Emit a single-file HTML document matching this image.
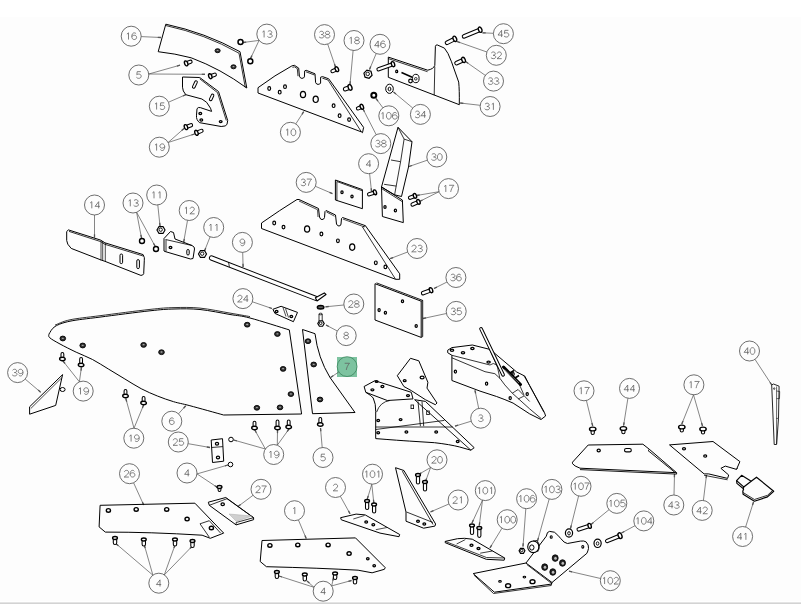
<!DOCTYPE html>
<html><head><meta charset="utf-8"><style>
html,body{margin:0;padding:0;background:#fff;width:801px;height:604px;overflow:hidden}
svg{display:block}
text{font-family:"Liberation Sans",sans-serif;font-size:9.6px;fill:#666}
</style></head><body>
<svg width="801" height="604" viewBox="0 0 801 604">
<rect x="0" y="0" width="801" height="604" fill="#fff"/>
<rect x="0" y="17" width="801" height="584" fill="#fdfdfd"/>
<rect x="0" y="602" width="801" height="1" fill="#e4e4e4"/>
<rect x="0" y="603" width="801" height="1" fill="#d3d3d3"/>
<rect x="337" y="357" width="20" height="20" fill="#7dc3a0"/>
<line x1="141.2" y1="36.6" x2="161.0" y2="37.5" stroke="#444" stroke-width="0.65"/>
<line x1="157.8" y1="37.4" x2="161.0" y2="37.5" stroke="#555" stroke-width="1.3"/>
<line x1="259.1" y1="40.4" x2="243.0" y2="42.5" stroke="#444" stroke-width="0.65"/>
<line x1="246.2" y1="42.1" x2="243.0" y2="42.5" stroke="#555" stroke-width="1.3"/>
<line x1="259.1" y1="40.4" x2="250.5" y2="58.5" stroke="#444" stroke-width="0.65"/>
<line x1="251.9" y1="55.6" x2="250.5" y2="58.5" stroke="#555" stroke-width="1.3"/>
<line x1="148.8" y1="74.0" x2="180.0" y2="65.2" stroke="#444" stroke-width="0.65"/>
<line x1="176.9" y1="66.1" x2="180.0" y2="65.2" stroke="#555" stroke-width="1.3"/>
<line x1="148.8" y1="74.0" x2="205.0" y2="74.3" stroke="#444" stroke-width="0.65"/>
<line x1="201.8" y1="74.3" x2="205.0" y2="74.3" stroke="#555" stroke-width="1.3"/>
<line x1="168.5" y1="102.2" x2="185.8" y2="94.7" stroke="#444" stroke-width="0.65"/>
<line x1="182.9" y1="96.0" x2="185.8" y2="94.7" stroke="#555" stroke-width="1.3"/>
<line x1="168.1" y1="142.5" x2="184.0" y2="128.5" stroke="#444" stroke-width="0.65"/>
<line x1="181.6" y1="130.6" x2="184.0" y2="128.5" stroke="#555" stroke-width="1.3"/>
<line x1="168.1" y1="142.5" x2="194.5" y2="134.0" stroke="#444" stroke-width="0.65"/>
<line x1="191.5" y1="135.0" x2="194.5" y2="134.0" stroke="#555" stroke-width="1.3"/>
<line x1="295.8" y1="123.9" x2="303.7" y2="111.7" stroke="#444" stroke-width="0.65"/>
<line x1="302.0" y1="114.4" x2="303.7" y2="111.7" stroke="#555" stroke-width="1.3"/>
<line x1="327.7" y1="44.1" x2="335.5" y2="67.0" stroke="#444" stroke-width="0.65"/>
<line x1="334.5" y1="64.0" x2="335.5" y2="67.0" stroke="#555" stroke-width="1.3"/>
<line x1="353.1" y1="50.5" x2="350.0" y2="84.5" stroke="#444" stroke-width="0.65"/>
<line x1="350.3" y1="81.3" x2="350.0" y2="84.5" stroke="#555" stroke-width="1.3"/>
<line x1="376.2" y1="53.5" x2="369.5" y2="69.5" stroke="#444" stroke-width="0.65"/>
<line x1="370.7" y1="66.5" x2="369.5" y2="69.5" stroke="#555" stroke-width="1.3"/>
<line x1="382.9" y1="107.8" x2="376.0" y2="98.5" stroke="#444" stroke-width="0.65"/>
<line x1="377.9" y1="101.1" x2="376.0" y2="98.5" stroke="#555" stroke-width="1.3"/>
<line x1="412.7" y1="108.0" x2="393.5" y2="92.0" stroke="#444" stroke-width="0.65"/>
<line x1="396.0" y1="94.0" x2="393.5" y2="92.0" stroke="#555" stroke-width="1.3"/>
<line x1="493.4" y1="33.3" x2="482.5" y2="32.8" stroke="#444" stroke-width="0.65"/>
<line x1="485.7" y1="32.9" x2="482.5" y2="32.8" stroke="#555" stroke-width="1.3"/>
<line x1="486.9" y1="52.0" x2="457.0" y2="41.5" stroke="#444" stroke-width="0.65"/>
<line x1="460.0" y1="42.6" x2="457.0" y2="41.5" stroke="#555" stroke-width="1.3"/>
<line x1="485.3" y1="75.4" x2="465.5" y2="61.5" stroke="#444" stroke-width="0.65"/>
<line x1="468.1" y1="63.3" x2="465.5" y2="61.5" stroke="#555" stroke-width="1.3"/>
<line x1="480.2" y1="105.3" x2="460.2" y2="103.0" stroke="#444" stroke-width="0.65"/>
<line x1="463.4" y1="103.4" x2="460.2" y2="103.0" stroke="#555" stroke-width="1.3"/>
<line x1="376.2" y1="134.7" x2="363.0" y2="109.0" stroke="#444" stroke-width="0.65"/>
<line x1="364.5" y1="111.8" x2="363.0" y2="109.0" stroke="#555" stroke-width="1.3"/>
<line x1="369.6" y1="173.6" x2="371.5" y2="191.5" stroke="#444" stroke-width="0.65"/>
<line x1="371.2" y1="188.3" x2="371.5" y2="191.5" stroke="#555" stroke-width="1.3"/>
<line x1="427.3" y1="160.2" x2="409.0" y2="166.5" stroke="#444" stroke-width="0.65"/>
<line x1="412.0" y1="165.5" x2="409.0" y2="166.5" stroke="#555" stroke-width="1.3"/>
<line x1="315.4" y1="186.3" x2="332.4" y2="193.6" stroke="#444" stroke-width="0.65"/>
<line x1="329.5" y1="192.3" x2="332.4" y2="193.6" stroke="#555" stroke-width="1.3"/>
<line x1="439.0" y1="191.7" x2="416.5" y2="195.5" stroke="#444" stroke-width="0.65"/>
<line x1="419.7" y1="195.0" x2="416.5" y2="195.5" stroke="#555" stroke-width="1.3"/>
<line x1="439.0" y1="191.7" x2="419.5" y2="201.5" stroke="#444" stroke-width="0.65"/>
<line x1="422.4" y1="200.1" x2="419.5" y2="201.5" stroke="#555" stroke-width="1.3"/>
<line x1="407.6" y1="252.0" x2="390.1" y2="258.7" stroke="#444" stroke-width="0.65"/>
<line x1="393.1" y1="257.6" x2="390.1" y2="258.7" stroke="#555" stroke-width="1.3"/>
<line x1="447.0" y1="282.0" x2="434.0" y2="288.5" stroke="#444" stroke-width="0.65"/>
<line x1="436.9" y1="287.1" x2="434.0" y2="288.5" stroke="#555" stroke-width="1.3"/>
<line x1="446.4" y1="313.5" x2="423.0" y2="318.5" stroke="#444" stroke-width="0.65"/>
<line x1="426.1" y1="317.8" x2="423.0" y2="318.5" stroke="#555" stroke-width="1.3"/>
<line x1="343.8" y1="305.0" x2="325.5" y2="306.8" stroke="#444" stroke-width="0.65"/>
<line x1="328.7" y1="306.5" x2="325.5" y2="306.8" stroke="#555" stroke-width="1.3"/>
<line x1="337.3" y1="331.0" x2="326.0" y2="325.0" stroke="#444" stroke-width="0.65"/>
<line x1="328.8" y1="326.5" x2="326.0" y2="325.0" stroke="#555" stroke-width="1.3"/>
<line x1="94.5" y1="215.0" x2="94.5" y2="237.5" stroke="#444" stroke-width="0.65"/>
<line x1="94.5" y1="234.3" x2="94.5" y2="237.5" stroke="#555" stroke-width="1.3"/>
<line x1="136.6" y1="212.3" x2="141.5" y2="238.0" stroke="#444" stroke-width="0.65"/>
<line x1="140.9" y1="234.9" x2="141.5" y2="238.0" stroke="#555" stroke-width="1.3"/>
<line x1="136.6" y1="212.3" x2="155.0" y2="246.0" stroke="#444" stroke-width="0.65"/>
<line x1="153.5" y1="243.2" x2="155.0" y2="246.0" stroke="#555" stroke-width="1.3"/>
<line x1="157.8" y1="204.9" x2="160.0" y2="226.0" stroke="#444" stroke-width="0.65"/>
<line x1="159.7" y1="222.8" x2="160.0" y2="226.0" stroke="#555" stroke-width="1.3"/>
<line x1="187.5" y1="220.4" x2="183.7" y2="242.0" stroke="#444" stroke-width="0.65"/>
<line x1="184.3" y1="238.8" x2="183.7" y2="242.0" stroke="#555" stroke-width="1.3"/>
<line x1="210.1" y1="236.8" x2="204.5" y2="251.0" stroke="#444" stroke-width="0.65"/>
<line x1="205.7" y1="248.0" x2="204.5" y2="251.0" stroke="#555" stroke-width="1.3"/>
<line x1="242.7" y1="252.4" x2="243.1" y2="267.0" stroke="#444" stroke-width="0.65"/>
<line x1="243.0" y1="263.8" x2="243.1" y2="267.0" stroke="#555" stroke-width="1.3"/>
<line x1="252.4" y1="301.8" x2="272.0" y2="308.5" stroke="#444" stroke-width="0.65"/>
<line x1="269.0" y1="307.5" x2="272.0" y2="308.5" stroke="#555" stroke-width="1.3"/>
<line x1="25.2" y1="379.1" x2="40.6" y2="392.2" stroke="#444" stroke-width="0.65"/>
<line x1="38.2" y1="390.1" x2="40.6" y2="392.2" stroke="#555" stroke-width="1.3"/>
<line x1="79.4" y1="381.8" x2="63.0" y2="361.0" stroke="#444" stroke-width="0.65"/>
<line x1="65.0" y1="363.5" x2="63.0" y2="361.0" stroke="#555" stroke-width="1.3"/>
<line x1="79.4" y1="381.8" x2="81.4" y2="367.5" stroke="#444" stroke-width="0.65"/>
<line x1="81.0" y1="370.7" x2="81.4" y2="367.5" stroke="#555" stroke-width="1.3"/>
<line x1="134.0" y1="428.2" x2="125.8" y2="398.5" stroke="#444" stroke-width="0.65"/>
<line x1="126.7" y1="401.6" x2="125.8" y2="398.5" stroke="#555" stroke-width="1.3"/>
<line x1="134.0" y1="428.2" x2="143.6" y2="405.0" stroke="#444" stroke-width="0.65"/>
<line x1="142.4" y1="408.0" x2="143.6" y2="405.0" stroke="#555" stroke-width="1.3"/>
<line x1="178.5" y1="413.8" x2="185.7" y2="405.8" stroke="#444" stroke-width="0.65"/>
<line x1="183.6" y1="408.2" x2="185.7" y2="405.8" stroke="#555" stroke-width="1.3"/>
<line x1="188.2" y1="443.7" x2="210.0" y2="447.5" stroke="#444" stroke-width="0.65"/>
<line x1="206.8" y1="447.0" x2="210.0" y2="447.5" stroke="#555" stroke-width="1.3"/>
<line x1="338.7" y1="372.1" x2="330.5" y2="377.5" stroke="#444" stroke-width="0.65"/>
<line x1="333.2" y1="375.7" x2="330.5" y2="377.5" stroke="#555" stroke-width="1.3"/>
<line x1="322.2" y1="447.5" x2="320.5" y2="428.0" stroke="#444" stroke-width="0.65"/>
<line x1="320.8" y1="431.2" x2="320.5" y2="428.0" stroke="#555" stroke-width="1.3"/>
<line x1="265.4" y1="449.0" x2="254.8" y2="430.0" stroke="#444" stroke-width="0.65"/>
<line x1="256.4" y1="432.8" x2="254.8" y2="430.0" stroke="#555" stroke-width="1.3"/>
<line x1="265.4" y1="449.0" x2="233.7" y2="440.0" stroke="#444" stroke-width="0.65"/>
<line x1="236.8" y1="440.9" x2="233.7" y2="440.0" stroke="#555" stroke-width="1.3"/>
<line x1="277.3" y1="445.2" x2="277.5" y2="430.0" stroke="#444" stroke-width="0.65"/>
<line x1="277.5" y1="433.2" x2="277.5" y2="430.0" stroke="#555" stroke-width="1.3"/>
<line x1="277.3" y1="445.2" x2="289.0" y2="429.0" stroke="#444" stroke-width="0.65"/>
<line x1="287.1" y1="431.6" x2="289.0" y2="429.0" stroke="#555" stroke-width="1.3"/>
<line x1="471.2" y1="421.2" x2="455.0" y2="426.2" stroke="#444" stroke-width="0.65"/>
<line x1="458.1" y1="425.2" x2="455.0" y2="426.2" stroke="#555" stroke-width="1.3"/>
<line x1="478.7" y1="408.4" x2="475.0" y2="390.3" stroke="#444" stroke-width="0.65"/>
<line x1="475.6" y1="393.4" x2="475.0" y2="390.3" stroke="#555" stroke-width="1.3"/>
<line x1="430.6" y1="467.5" x2="418.5" y2="474.5" stroke="#444" stroke-width="0.65"/>
<line x1="421.3" y1="472.9" x2="418.5" y2="474.5" stroke="#555" stroke-width="1.3"/>
<line x1="430.6" y1="467.5" x2="425.5" y2="481.5" stroke="#444" stroke-width="0.65"/>
<line x1="426.6" y1="478.5" x2="425.5" y2="481.5" stroke="#555" stroke-width="1.3"/>
<line x1="755.0" y1="359.4" x2="771.8" y2="385.0" stroke="#444" stroke-width="0.65"/>
<line x1="770.0" y1="382.3" x2="771.8" y2="385.0" stroke="#555" stroke-width="1.3"/>
<line x1="586.4" y1="400.5" x2="592.7" y2="426.0" stroke="#444" stroke-width="0.65"/>
<line x1="591.9" y1="422.9" x2="592.7" y2="426.0" stroke="#555" stroke-width="1.3"/>
<line x1="627.9" y1="398.3" x2="623.6" y2="425.5" stroke="#444" stroke-width="0.65"/>
<line x1="624.1" y1="422.3" x2="623.6" y2="425.5" stroke="#555" stroke-width="1.3"/>
<line x1="693.5" y1="394.8" x2="681.8" y2="424.0" stroke="#444" stroke-width="0.65"/>
<line x1="683.0" y1="421.0" x2="681.8" y2="424.0" stroke="#555" stroke-width="1.3"/>
<line x1="693.5" y1="394.8" x2="702.5" y2="426.0" stroke="#444" stroke-width="0.65"/>
<line x1="701.6" y1="422.9" x2="702.5" y2="426.0" stroke="#555" stroke-width="1.3"/>
<line x1="674.0" y1="495.0" x2="674.5" y2="474.0" stroke="#444" stroke-width="0.65"/>
<line x1="674.4" y1="477.2" x2="674.5" y2="474.0" stroke="#555" stroke-width="1.3"/>
<line x1="703.4" y1="500.5" x2="706.5" y2="475.0" stroke="#444" stroke-width="0.65"/>
<line x1="706.1" y1="478.2" x2="706.5" y2="475.0" stroke="#555" stroke-width="1.3"/>
<line x1="745.6" y1="527.0" x2="753.5" y2="502.0" stroke="#444" stroke-width="0.65"/>
<line x1="752.5" y1="505.1" x2="753.5" y2="502.0" stroke="#555" stroke-width="1.3"/>
<line x1="133.6" y1="482.8" x2="143.7" y2="505.0" stroke="#444" stroke-width="0.65"/>
<line x1="142.4" y1="502.1" x2="143.7" y2="505.0" stroke="#555" stroke-width="1.3"/>
<line x1="197.0" y1="473.9" x2="228.0" y2="465.0" stroke="#444" stroke-width="0.65"/>
<line x1="224.9" y1="465.9" x2="228.0" y2="465.0" stroke="#555" stroke-width="1.3"/>
<line x1="197.0" y1="473.9" x2="217.5" y2="487.5" stroke="#444" stroke-width="0.65"/>
<line x1="214.8" y1="485.7" x2="217.5" y2="487.5" stroke="#555" stroke-width="1.3"/>
<line x1="253.0" y1="495.3" x2="238.0" y2="506.5" stroke="#444" stroke-width="0.65"/>
<line x1="240.6" y1="504.6" x2="238.0" y2="506.5" stroke="#555" stroke-width="1.3"/>
<line x1="298.4" y1="519.9" x2="306.2" y2="538.5" stroke="#444" stroke-width="0.65"/>
<line x1="305.0" y1="535.6" x2="306.2" y2="538.5" stroke="#555" stroke-width="1.3"/>
<line x1="340.3" y1="496.2" x2="350.0" y2="513.7" stroke="#444" stroke-width="0.65"/>
<line x1="348.5" y1="510.9" x2="350.0" y2="513.7" stroke="#555" stroke-width="1.3"/>
<line x1="371.8" y1="484.2" x2="367.3" y2="499.0" stroke="#444" stroke-width="0.65"/>
<line x1="368.2" y1="495.9" x2="367.3" y2="499.0" stroke="#555" stroke-width="1.3"/>
<line x1="371.8" y1="484.2" x2="373.8" y2="503.0" stroke="#444" stroke-width="0.65"/>
<line x1="373.5" y1="499.8" x2="373.8" y2="503.0" stroke="#555" stroke-width="1.3"/>
<line x1="314.0" y1="587.3" x2="279.0" y2="576.0" stroke="#444" stroke-width="0.65"/>
<line x1="282.0" y1="577.0" x2="279.0" y2="576.0" stroke="#555" stroke-width="1.3"/>
<line x1="314.0" y1="587.3" x2="307.0" y2="581.0" stroke="#444" stroke-width="0.65"/>
<line x1="309.4" y1="583.1" x2="307.0" y2="581.0" stroke="#555" stroke-width="1.3"/>
<line x1="331.7" y1="585.9" x2="333.5" y2="577.5" stroke="#444" stroke-width="0.65"/>
<line x1="332.8" y1="580.6" x2="333.5" y2="577.5" stroke="#555" stroke-width="1.3"/>
<line x1="331.7" y1="585.9" x2="351.5" y2="580.5" stroke="#444" stroke-width="0.65"/>
<line x1="348.4" y1="581.3" x2="351.5" y2="580.5" stroke="#555" stroke-width="1.3"/>
<line x1="448.9" y1="504.0" x2="430.6" y2="511.9" stroke="#444" stroke-width="0.65"/>
<line x1="433.5" y1="510.6" x2="430.6" y2="511.9" stroke="#555" stroke-width="1.3"/>
<line x1="482.5" y1="500.2" x2="472.0" y2="523.0" stroke="#444" stroke-width="0.65"/>
<line x1="473.3" y1="520.1" x2="472.0" y2="523.0" stroke="#555" stroke-width="1.3"/>
<line x1="482.5" y1="500.2" x2="479.3" y2="525.5" stroke="#444" stroke-width="0.65"/>
<line x1="479.7" y1="522.3" x2="479.3" y2="525.5" stroke="#555" stroke-width="1.3"/>
<line x1="502.0" y1="528.2" x2="490.0" y2="547.8" stroke="#444" stroke-width="0.65"/>
<line x1="491.7" y1="545.1" x2="490.0" y2="547.8" stroke="#555" stroke-width="1.3"/>
<line x1="525.8" y1="508.7" x2="523.0" y2="546.5" stroke="#444" stroke-width="0.65"/>
<line x1="523.2" y1="543.3" x2="523.0" y2="546.5" stroke="#555" stroke-width="1.3"/>
<line x1="549.2" y1="499.0" x2="537.5" y2="541.0" stroke="#444" stroke-width="0.65"/>
<line x1="538.4" y1="537.9" x2="537.5" y2="541.0" stroke="#555" stroke-width="1.3"/>
<line x1="578.6" y1="496.0" x2="570.5" y2="528.5" stroke="#444" stroke-width="0.65"/>
<line x1="571.3" y1="525.4" x2="570.5" y2="528.5" stroke="#555" stroke-width="1.3"/>
<line x1="609.0" y1="509.7" x2="591.0" y2="524.4" stroke="#444" stroke-width="0.65"/>
<line x1="593.5" y1="522.4" x2="591.0" y2="524.4" stroke="#555" stroke-width="1.3"/>
<line x1="635.0" y1="525.7" x2="621.5" y2="533.0" stroke="#444" stroke-width="0.65"/>
<line x1="624.3" y1="531.5" x2="621.5" y2="533.0" stroke="#555" stroke-width="1.3"/>
<line x1="600.6" y1="578.5" x2="569.0" y2="571.2" stroke="#444" stroke-width="0.65"/>
<line x1="572.1" y1="571.9" x2="569.0" y2="571.2" stroke="#555" stroke-width="1.3"/>
<line x1="152.9" y1="575.2" x2="116.0" y2="543.7" stroke="#444" stroke-width="0.65"/>
<line x1="118.4" y1="545.8" x2="116.0" y2="543.7" stroke="#555" stroke-width="1.3"/>
<line x1="152.9" y1="575.2" x2="144.3" y2="545.0" stroke="#444" stroke-width="0.65"/>
<line x1="145.2" y1="548.1" x2="144.3" y2="545.0" stroke="#555" stroke-width="1.3"/>
<line x1="164.3" y1="574.9" x2="175.0" y2="545.0" stroke="#444" stroke-width="0.65"/>
<line x1="173.9" y1="548.0" x2="175.0" y2="545.0" stroke="#555" stroke-width="1.3"/>
<line x1="164.3" y1="574.9" x2="192.2" y2="546.2" stroke="#444" stroke-width="0.65"/>
<line x1="190.0" y1="548.5" x2="192.2" y2="546.2" stroke="#555" stroke-width="1.3"/>
<path d="M165.8,24.2 Q205,32.5 240,51.7 L246.8,88 Q221,69 191.2,57.8 Q175,53.5 158.2,51.7 Z" fill="none" stroke="#000" stroke-width="1.0" stroke-linejoin="round"/>
<path d="M166,25.6 Q205,34 239,53.2 L245.3,87.5" fill="none" stroke="#000" stroke-width="0.8" stroke-linejoin="round"/>
<ellipse cx="217.6" cy="50.7" rx="2.6" ry="2.0" fill="#333" stroke="#000" stroke-width="0.9"/><ellipse cx="217.6" cy="50.5" rx="1.04" ry="0.56" fill="#aaa"/>
<ellipse cx="233.5" cy="66.8" rx="2.6" ry="2.0" fill="#333" stroke="#000" stroke-width="0.9"/><ellipse cx="233.5" cy="66.6" rx="1.04" ry="0.56" fill="#aaa"/>
<circle cx="240.5" cy="42" r="2.5" fill="#fff" stroke="#000" stroke-width="1.5"/>
<circle cx="250.3" cy="61.3" r="2.5" fill="#fff" stroke="#000" stroke-width="1.5"/>
<g transform="translate(185.70,63.60) rotate(-20.9)"><path d="M1.5,-1.6 L5.141661516273279,-1.6 A1.6,1.6 0 0 1 5.141661516273279,1.6 L1.5,1.6" fill="#fff" stroke="#000" stroke-width="1.05"/><ellipse cx="0.5" cy="0" rx="1.56" ry="2.6" fill="#fff" stroke="#000" stroke-width="1.4"/></g>
<g transform="translate(209.80,76.40) rotate(-18.7)"><path d="M1.5,-1.6 L5.262215385719106,-1.6 A1.6,1.6 0 0 1 5.262215385719106,1.6 L1.5,1.6" fill="#fff" stroke="#000" stroke-width="1.05"/><ellipse cx="0.5" cy="0" rx="1.56" ry="2.6" fill="#fff" stroke="#000" stroke-width="1.4"/></g>
<path d="M182.5,77 L199.7,77.5 L218.5,91.5 L227.7,120.5 Q227.5,125 225.5,125.9 L221.2,126.5 L199.7,122.7 Q196,120 196.5,115.2 L197,108.7 Q198,107 200.3,107.6 L211.6,111.4 L210.5,108.2 Q207,101 201.9,99 L185.8,94.7 Q182.5,91 182.5,87.2 Z" fill="none" stroke="#000" stroke-width="1.0" stroke-linejoin="round"/>
<path d="M199.7,78.8 L217.5,92.6 L226.3,120.5" fill="none" stroke="#000" stroke-width="0.8" stroke-linejoin="round"/>
<g transform="translate(194.9,84.5) rotate(-65)"><rect x="-4" y="-1.3" width="8" height="2.6" rx="1.3" fill="none" stroke="#000" stroke-width="1"/></g>
<g transform="translate(211.6,97.4) rotate(-65)"><rect x="-3.5" y="-1.3" width="7" height="2.6" rx="1.3" fill="none" stroke="#000" stroke-width="1"/></g>
<ellipse cx="200.3" cy="113.5" rx="1.4" ry="1.1" fill="none" stroke="#000" stroke-width="1.25"/>
<ellipse cx="201.3" cy="120" rx="1.4" ry="1.1" fill="none" stroke="#000" stroke-width="1.25"/>
<ellipse cx="220.7" cy="121.6" rx="1.4" ry="1.1" fill="none" stroke="#000" stroke-width="1.25"/>
<g transform="translate(185.50,127.30) rotate(-21.1)"><path d="M1.5,-1.6 L5.902666192761078,-1.6 A1.6,1.6 0 0 1 5.902666192761078,1.6 L1.5,1.6" fill="#fff" stroke="#000" stroke-width="1.05"/><ellipse cx="0.5" cy="0" rx="1.56" ry="2.6" fill="#fff" stroke="#000" stroke-width="1.4"/></g>
<g transform="translate(196.00,133.00) rotate(-21.1)"><path d="M1.5,-1.6 L5.902666192761073,-1.6 A1.6,1.6 0 0 1 5.902666192761073,1.6 L1.5,1.6" fill="#fff" stroke="#000" stroke-width="1.05"/><ellipse cx="0.5" cy="0" rx="1.56" ry="2.6" fill="#fff" stroke="#000" stroke-width="1.4"/></g>
<path d="M258,87.7 Q275,75 291.9,65.9 L294.4,65.3 L298.7,68.1 L299.4,76.2 Q300.5,78.6 301.9,78.4 Q304,78.2 304.4,76.9 L304.7,70.9 L306.2,70.3 L315,73.8 L315.6,82.5 Q316.5,84.6 318.1,84.4 Q320.2,84.2 320.6,83.1 L320.6,77.2 L322.5,76.6 L328.7,78.8 L363.6,127.4 L362.5,132.7 L361.4,131.9 L258,93 Z" fill="none" stroke="#000" stroke-width="1.0" stroke-linejoin="round"/>
<path d="M292.5,67.4 L294.4,66.8 L297.3,68.6 L298,76.2 M306,71.8 L314.5,75 M322.3,78.1 L328,80 L361.4,131.9" fill="none" stroke="#000" stroke-width="0.8" stroke-linejoin="round"/>
<ellipse cx="269.2" cy="88.5" rx="1.4" ry="1.8" fill="none" stroke="#000" stroke-width="1.2"/>
<ellipse cx="279.7" cy="92.2" rx="1.4" ry="1.8" fill="none" stroke="#000" stroke-width="1.2"/>
<ellipse cx="285" cy="86.7" rx="1.4" ry="1.8" fill="none" stroke="#000" stroke-width="1.2"/>
<ellipse cx="303" cy="94.5" rx="2.6" ry="3.2" fill="none" stroke="#000" stroke-width="1.2"/>
<ellipse cx="315.7" cy="99.3" rx="2.6" ry="3.2" fill="none" stroke="#000" stroke-width="1.2"/>
<ellipse cx="333.6" cy="105.7" rx="1.4" ry="1.8" fill="none" stroke="#000" stroke-width="1.2"/>
<ellipse cx="339.6" cy="115.7" rx="1.4" ry="1.8" fill="none" stroke="#000" stroke-width="1.2"/>
<ellipse cx="349.1" cy="119.6" rx="1.4" ry="1.8" fill="none" stroke="#000" stroke-width="1.2"/>
<g transform="translate(337.30,69.00) rotate(156.0)"><path d="M1.5,-1.6 L5.294200461257283,-1.6 A1.6,1.6 0 0 1 5.294200461257283,1.6 L1.5,1.6" fill="#fff" stroke="#000" stroke-width="1.05"/><ellipse cx="0.5" cy="0" rx="1.56" ry="2.6" fill="#fff" stroke="#000" stroke-width="1.4"/></g>
<g transform="translate(350.50,87.20) rotate(160.3)"><path d="M1.5,-1.9 L5.5330343736592535,-1.9 A1.9,1.9 0 0 1 5.5330343736592535,1.9 L1.5,1.9" fill="#fff" stroke="#000" stroke-width="1.05"/><ellipse cx="0.5" cy="0" rx="1.7999999999999998" ry="3" fill="#fff" stroke="#000" stroke-width="1.4"/></g>
<polygon points="372.06,75.29 369.09,78.26 365.03,77.17 363.94,73.11 366.91,70.14 370.97,71.23" fill="#fff" stroke="#000" stroke-width="1.2"/><circle cx="367.7" cy="73.9" r="1.764" fill="none" stroke="#000" stroke-width="0.9"/>
<circle cx="373.8" cy="95.2" r="2.5" fill="#fff" stroke="#000" stroke-width="2"/>
<g transform="translate(362.30,106.60) rotate(157.5)"><path d="M1.5,-1.6 L4.6769419305900986,-1.6 A1.6,1.6 0 0 1 4.6769419305900986,1.6 L1.5,1.6" fill="#fff" stroke="#000" stroke-width="1.05"/><ellipse cx="0.5" cy="0" rx="1.56" ry="2.6" fill="#fff" stroke="#000" stroke-width="1.4"/></g>
<path d="M388.3,57.1 L427.7,70.2 Q433.5,69 434.8,65.4 L435.4,46.3 Q436,44.5 437.2,44.9 L444.4,48.1 Q448,52 451.5,61.8 L458.7,82.1 Q459.5,90 459.3,104.7 L388.3,77.3 Z" fill="none" stroke="#000" stroke-width="1.0" stroke-linejoin="round"/>
<path d="M388.3,58.6 L427.5,71.7" fill="none" stroke="#000" stroke-width="0.8" stroke-linejoin="round"/>
<path d="M434.8,66.6 L434.2,95.2" fill="none" stroke="#000" stroke-width="0.8" stroke-linejoin="round"/>
<ellipse cx="396.7" cy="71.4" rx="1" ry="1.3" fill="none" stroke="#000" stroke-width="1.25"/>
<path d="M401.5,72.6 L412.2,77.3" fill="none" stroke="#000" stroke-width="1.6" stroke-linejoin="round"/>
<ellipse cx="415.8" cy="78.5" rx="3.3" ry="4.2" fill="#fff" stroke="#000" stroke-width="1"/><circle cx="415.8" cy="78.8" r="1.3" fill="none" stroke="#000" stroke-width="0.8"/>
<circle cx="410.5" cy="81" r="1.8" fill="#fff" stroke="#000" stroke-width="1.2"/>
<g transform="translate(393.50,64.00) rotate(160.6)"><path d="M1.5,-1.7 L15.789711261195823,-1.7 A1.7,1.7 0 0 1 15.789711261195823,1.7 L1.5,1.7" fill="#fff" stroke="#000" stroke-width="1.05"/><ellipse cx="0.5" cy="0" rx="1.56" ry="2.6" fill="#fff" stroke="#000" stroke-width="1.4"/></g>
<ellipse cx="389.5" cy="88.8" rx="3.8" ry="4.6" fill="#fff" stroke="#000" stroke-width="1"/><ellipse cx="389.5" cy="89" rx="1.4" ry="1.8" fill="none" stroke="#000" stroke-width="1"/>
<g transform="translate(480.60,29.50) rotate(157.6)"><path d="M1.5,-1.8 L17.884765683136838,-1.8 A1.8,1.8 0 0 1 17.884765683136838,1.8 L1.5,1.8" fill="#fff" stroke="#000" stroke-width="1.05"/><ellipse cx="0.5" cy="0" rx="1.68" ry="2.8" fill="#fff" stroke="#000" stroke-width="1.4"/></g>
<g transform="translate(455.30,38.60) rotate(153.2)"><path d="M1.5,-1.8 L9.290987332063844,-1.8 A1.8,1.8 0 0 1 9.290987332063844,1.8 L1.5,1.8" fill="#fff" stroke="#000" stroke-width="1.05"/><ellipse cx="0.5" cy="0" rx="1.68" ry="2.8" fill="#fff" stroke="#000" stroke-width="1.4"/></g>
<g transform="translate(464.00,59.70) rotate(155.2)"><path d="M1.5,-1.8 L8.222474744293466,-1.8 A1.8,1.8 0 0 1 8.222474744293466,1.8 L1.5,1.8" fill="#fff" stroke="#000" stroke-width="1.05"/><ellipse cx="0.5" cy="0" rx="1.68" ry="2.8" fill="#fff" stroke="#000" stroke-width="1.4"/></g>
<path d="M398,127.3 L412,141.7 L408.5,167 L401.5,196.5 L394.6,194.8 L381.5,187 Z" fill="none" stroke="#000" stroke-width="1.0" stroke-linejoin="round"/>
<path d="M398,127.3 L404.1,139.1 L412,141.7 M404.1,139.1 L400.6,161.7 L394.6,194.8 M391,160 L400.6,161.7 M384.1,184.3 L396.3,186.1" fill="none" stroke="#000" stroke-width="0.8" stroke-linejoin="round"/>
<path d="M381.5,187 L402.4,200 L403.3,222.6 L382.4,216.5 Z" fill="none" stroke="#000" stroke-width="1.0" stroke-linejoin="round"/>
<path d="M382,188.8 L402.2,201.6" fill="none" stroke="#000" stroke-width="0.8" stroke-linejoin="round"/>
<ellipse cx="385" cy="207" rx="1.1" ry="1.4" fill="none" stroke="#000" stroke-width="1.25"/>
<ellipse cx="395.4" cy="210.4" rx="1.1" ry="1.4" fill="none" stroke="#000" stroke-width="1.25"/>
<g transform="translate(415.40,195.70) rotate(159.4)"><path d="M1.5,-1.6 L5.773601562330297,-1.6 A1.6,1.6 0 0 1 5.773601562330297,1.6 L1.5,1.6" fill="#fff" stroke="#000" stroke-width="1.05"/><ellipse cx="0.5" cy="0" rx="1.5" ry="2.5" fill="#fff" stroke="#000" stroke-width="1.4"/></g>
<g transform="translate(418.90,201.70) rotate(155.8)"><path d="M1.5,-1.6 L6.949268974596558,-1.6 A1.6,1.6 0 0 1 6.949268974596558,1.6 L1.5,1.6" fill="#fff" stroke="#000" stroke-width="1.05"/><ellipse cx="0.5" cy="0" rx="1.5" ry="2.5" fill="#fff" stroke="#000" stroke-width="1.4"/></g>
<path d="M335.4,180 L362.4,189.6 L362.4,208.7 L335.4,200 Z" fill="none" stroke="#000" stroke-width="1.0" stroke-linejoin="round"/>
<path d="M336.9,181.5 L336.9,200.5 M336.9,181.5 L362.4,190.8" fill="none" stroke="#000" stroke-width="0.8" stroke-linejoin="round"/>
<ellipse cx="342" cy="192.2" rx="1.1" ry="1.4" fill="none" stroke="#000" stroke-width="1.25"/>
<ellipse cx="352" cy="196.5" rx="1.1" ry="1.4" fill="none" stroke="#000" stroke-width="1.25"/>
<g transform="translate(375.40,192.20) rotate(161.6)"><path d="M1.5,-1.6 L6.621921916437751,-1.6 A1.6,1.6 0 0 1 6.621921916437751,1.6 L1.5,1.6" fill="#fff" stroke="#000" stroke-width="1.05"/><ellipse cx="0.5" cy="0" rx="1.5" ry="2.5" fill="#fff" stroke="#000" stroke-width="1.4"/></g>
<path d="M261.5,223 Q280,210 297,199.5 L299,199.5 L318.5,208.5 L319.5,217 Q320.5,219.8 322,219.6 Q324.2,219.4 324.5,217.5 L325,211.5 L326,210.5 L335.5,215 L336.5,224 Q337.5,226.2 339,226 Q341,225.8 341,224 L341.5,218.5 L342.5,217.5 L365.4,225.7 L399.7,273.8 L399.7,279.3 L395.6,279.3 L261.5,228.5 Z" fill="none" stroke="#000" stroke-width="1.0" stroke-linejoin="round"/>
<path d="M365.4,225.7 L362.5,227 L395.6,279.3" fill="none" stroke="#000" stroke-width="0.8" stroke-linejoin="round"/>
<path d="M299,201 L317.5,209.7 L318,217 M326.5,212 L334.5,216.2 M342.8,219 L364.5,227" fill="none" stroke="#000" stroke-width="0.7" stroke-linejoin="round"/>
<ellipse cx="274.2" cy="223" rx="1.4" ry="1.8" fill="none" stroke="#000" stroke-width="1.2"/>
<ellipse cx="283.5" cy="227.1" rx="1.4" ry="1.8" fill="none" stroke="#000" stroke-width="1.2"/>
<ellipse cx="307.1" cy="229" rx="2.6" ry="3.2" fill="none" stroke="#000" stroke-width="1.2"/>
<ellipse cx="321.4" cy="234" rx="1.4" ry="1.8" fill="none" stroke="#000" stroke-width="1.2"/>
<ellipse cx="337.9" cy="240.8" rx="1.4" ry="1.8" fill="none" stroke="#000" stroke-width="1.2"/>
<ellipse cx="352.2" cy="247.1" rx="2.6" ry="3.2" fill="none" stroke="#000" stroke-width="1.2"/>
<ellipse cx="375.8" cy="262.8" rx="1.4" ry="1.8" fill="none" stroke="#000" stroke-width="1.2"/>
<ellipse cx="385.4" cy="266.9" rx="1.4" ry="1.8" fill="none" stroke="#000" stroke-width="1.2"/>
<path d="M375,283.7 L421.2,301.2 L421.2,337.4 L375,320 Z" fill="none" stroke="#000" stroke-width="1.0" stroke-linejoin="round"/>
<path d="M376.5,282.9 L422.7,300.4 L422.7,336.6 L421.2,337.4 M421.2,301.2 L422.7,300.4" fill="none" stroke="#000" stroke-width="0.9" stroke-linejoin="round"/>
<ellipse cx="402.5" cy="301.3" rx="1.1" ry="1.4" fill="none" stroke="#000" stroke-width="1.25"/>
<ellipse cx="379.1" cy="310.1" rx="1.1" ry="1.4" fill="none" stroke="#000" stroke-width="1.25"/>
<ellipse cx="385.4" cy="312.8" rx="1.1" ry="1.4" fill="none" stroke="#000" stroke-width="1.25"/>
<ellipse cx="416.2" cy="326" rx="1.1" ry="1.4" fill="none" stroke="#000" stroke-width="1.25"/>
<g transform="translate(431.50,290.00) rotate(159.2)"><path d="M1.5,-1.7 L8.99766329625307,-1.7 A1.7,1.7 0 0 1 8.99766329625307,1.7 L1.5,1.7" fill="#fff" stroke="#000" stroke-width="1.05"/><ellipse cx="0.5" cy="0" rx="1.56" ry="2.6" fill="#fff" stroke="#000" stroke-width="1.4"/></g>
<path d="M68.4,229.9 L100.4,240 L104.9,242.8 L143.1,254.6 Q145,258 144.3,260.2 L143.7,273.7 Q143,275.5 140.9,275.4 L104.9,261.3 L101.6,260.2 L71.2,248.4 Q66.7,244 66.7,240.5 L66.7,231.5 Z" fill="none" stroke="#000" stroke-width="1.0" stroke-linejoin="round"/>
<path d="M69,231.4 L100.4,241.5 L104.9,244.3 L143.1,256" fill="none" stroke="#000" stroke-width="0.8" stroke-linejoin="round"/>
<path d="M101,240.5 L101,260.5 M102.7,241 L102.7,260.8 M105.3,243 L105.3,261.5" fill="none" stroke="#000" stroke-width="0.7" stroke-linejoin="round"/>
<rect x="120" y="254" width="2.6" height="9.6" rx="1.3" fill="none" stroke="#000" stroke-width="1"/>
<rect x="136.8" y="259.6" width="2.6" height="9" rx="1.3" fill="none" stroke="#000" stroke-width="1"/>
<circle cx="142" cy="241" r="2.5" fill="#fff" stroke="#000" stroke-width="1.4"/>
<circle cx="156" cy="249" r="2.5" fill="#fff" stroke="#000" stroke-width="1.4"/>
<polygon points="165.00,230.00 163.00,233.46 159.00,233.46 157.00,230.00 159.00,226.54 163.00,226.54" fill="#fff" stroke="#000" stroke-width="1.2"/><circle cx="160.7" cy="229.7" r="1.68" fill="none" stroke="#000" stroke-width="0.9"/>
<polygon points="206.50,254.00 204.50,257.46 200.50,257.46 198.50,254.00 200.50,250.54 204.50,250.54" fill="#fff" stroke="#000" stroke-width="1.2"/><circle cx="202.2" cy="253.7" r="1.68" fill="none" stroke="#000" stroke-width="0.9"/>
<path d="M164,238.5 L170.5,231.5 L173.5,232.5 L175,239 L192,245.5 Q195,247 194.5,249 L193,258.5 L190.5,259 L165,251.5 L164,251 Z" fill="none" stroke="#000" stroke-width="1.0" stroke-linejoin="round"/>
<path d="M165.5,239.5 L192,245.5 M166,239.8 L166,251.5" fill="none" stroke="#000" stroke-width="0.8" stroke-linejoin="round"/>
<ellipse cx="170.5" cy="247.5" rx="1.4" ry="1.1" fill="none" stroke="#000" stroke-width="1.25"/>
<rect x="186.8" y="249.5" width="2.4" height="5.5" rx="1.2" fill="none" stroke="#000" stroke-width="1"/>
<path d="M211.5,258 L315.4,298.2" stroke="#000" stroke-width="5.2" stroke-linecap="round"/><path d="M211.5,258 L315.4,298.2" stroke="#fff" stroke-width="3.2" stroke-linecap="round"/>
<path d="M228.5,262 L229.4,266.9" fill="none" stroke="#000" stroke-width="0.8" stroke-linejoin="round"/>
<path d="M315.4,297.8 L324.3,292.9 L326,294.5 L317,301 Z" fill="#fff" stroke="#000" stroke-width="1.1" stroke-linejoin="round"/>
<path d="M272.9,309.3 L281.1,306.3 L297.5,312.4 L293.4,321.7 L274.9,313.4 Z" fill="none" stroke="#000" stroke-width="1.0" stroke-linejoin="round"/>
<path d="M283,307.5 L286,316.5 M285.5,308.5 L288.5,317.5" fill="none" stroke="#000" stroke-width="0.7" stroke-linejoin="round"/>
<ellipse cx="276.6" cy="311.4" rx="1.4" ry="1.1" fill="none" stroke="#000" stroke-width="1.25"/>
<ellipse cx="291.3" cy="316.5" rx="1.4" ry="1.1" fill="none" stroke="#000" stroke-width="1.25"/>
<ellipse cx="320.6" cy="307.2" rx="3.4" ry="1.9" fill="#222" stroke="#000" stroke-width="1.2"/><path d="M318.5,307.2 L322.7,307.2" stroke="#999" stroke-width="0.8"/>
<path d="M319,314 L319,321 M322.2,314 L322.2,321" stroke="#000" stroke-width="0.8"/><ellipse cx="320.6" cy="314" rx="1.6" ry="0.8" fill="none" stroke="#000" stroke-width="0.8"/>
<polygon points="324.20,323.50 322.60,326.27 319.40,326.27 317.80,323.50 319.40,320.73 322.60,320.73" fill="#fff" stroke="#000" stroke-width="1.2"/><circle cx="320.7" cy="323.2" r="1.344" fill="none" stroke="#000" stroke-width="0.9"/>
<path d="M49,334 C50.00,332.75 51.50,328.63 55,326.5 C58.50,324.37 62.50,322.77 70,321.2 C77.50,319.63 86.67,318.83 100,317.1 C113.33,315.37 137.67,312.15 150,310.8 C162.33,309.45 165.67,309.22 174,309 C182.33,308.78 190.67,308.58 200,309.5 C209.33,310.42 221.67,313.08 230,314.5 C238.33,315.92 240.12,315.43 250,318 C259.88,320.57 282.75,327.92 289.3,329.9 L301.6,414 L223.6,415 C217.98,413.45 198.23,407.92 189.9,405.7 C181.57,403.48 179.02,403.32 173.6,401.7 C168.18,400.08 162.80,398.17 157.4,396 C152.00,393.83 146.62,391.53 141.2,388.7 C135.78,385.87 130.32,382.25 124.9,379 C119.48,375.75 114.10,372.45 108.7,369.2 C103.30,365.95 97.92,362.33 92.5,359.5 C87.08,356.67 81.62,354.78 76.2,352.2 C70.78,349.62 64.42,346.42 60,344 C55.58,341.58 51.53,339.37 49.7,337.7 C47.87,336.03 49.12,334.62 49,334 Z" fill="none" stroke="#000" stroke-width="1.0" stroke-linejoin="round"/>
<path d="M55,325.1 C57.50,324.22 62.50,321.37 70,319.8 C77.50,318.23 86.67,317.43 100,315.70000000000005 C113.33,313.97 137.67,310.75 150,309.40000000000003 C162.33,308.05 165.67,307.82 174,307.6 C182.33,307.38 190.67,307.18 200,308.1 C209.33,309.02 221.67,311.68 230,313.1 C238.33,314.52 246.67,316.02 250,316.6" fill="none" stroke="#000" stroke-width="0.8" stroke-linejoin="round"/>
<ellipse cx="62.8" cy="338.5" rx="2.8" ry="2.4" fill="#333" stroke="#000" stroke-width="0.9"/><ellipse cx="62.8" cy="338.3" rx="1.1199999999999999" ry="0.672" fill="#aaa"/>
<ellipse cx="82.7" cy="345.5" rx="2.8" ry="2.4" fill="#333" stroke="#000" stroke-width="0.9"/><ellipse cx="82.7" cy="345.3" rx="1.1199999999999999" ry="0.672" fill="#aaa"/>
<ellipse cx="143.6" cy="344.9" rx="2.8" ry="2.4" fill="#333" stroke="#000" stroke-width="0.9"/><ellipse cx="143.6" cy="344.7" rx="1.1199999999999999" ry="0.672" fill="#aaa"/>
<ellipse cx="161.5" cy="352.2" rx="2.8" ry="2.4" fill="#333" stroke="#000" stroke-width="0.9"/><ellipse cx="161.5" cy="352.0" rx="1.1199999999999999" ry="0.672" fill="#aaa"/>
<ellipse cx="247.2" cy="324.7" rx="2.8" ry="2.4" fill="#333" stroke="#000" stroke-width="0.9"/><ellipse cx="247.2" cy="324.5" rx="1.1199999999999999" ry="0.672" fill="#aaa"/>
<ellipse cx="277.4" cy="334" rx="2.8" ry="2.4" fill="#333" stroke="#000" stroke-width="0.9"/><ellipse cx="277.4" cy="333.8" rx="1.1199999999999999" ry="0.672" fill="#aaa"/>
<ellipse cx="283.1" cy="368.9" rx="2.8" ry="2.4" fill="#333" stroke="#000" stroke-width="0.9"/><ellipse cx="283.1" cy="368.7" rx="1.1199999999999999" ry="0.672" fill="#aaa"/>
<ellipse cx="290.9" cy="394.1" rx="2.8" ry="2.4" fill="#333" stroke="#000" stroke-width="0.9"/><ellipse cx="290.9" cy="393.90000000000003" rx="1.1199999999999999" ry="0.672" fill="#aaa"/>
<ellipse cx="256.9" cy="407.8" rx="2.8" ry="2.4" fill="#333" stroke="#000" stroke-width="0.9"/><ellipse cx="256.9" cy="407.6" rx="1.1199999999999999" ry="0.672" fill="#aaa"/>
<ellipse cx="280" cy="407.4" rx="2.8" ry="2.4" fill="#333" stroke="#000" stroke-width="0.9"/><ellipse cx="280" cy="407.2" rx="1.1199999999999999" ry="0.672" fill="#aaa"/>
<path d="M302.5,329.5 L315,333.7 Q318,358 330,377.5 L355,412.5 L312.5,413.7 Z" fill="none" stroke="#000" stroke-width="1.0" stroke-linejoin="round"/>
<ellipse cx="308" cy="341.2" rx="2.8" ry="2.4" fill="#333" stroke="#000" stroke-width="0.9"/><ellipse cx="308" cy="341.0" rx="1.1199999999999999" ry="0.672" fill="#aaa"/>
<ellipse cx="313.7" cy="364.5" rx="2.8" ry="2.4" fill="#333" stroke="#000" stroke-width="0.9"/><ellipse cx="313.7" cy="364.3" rx="1.1199999999999999" ry="0.672" fill="#aaa"/>
<ellipse cx="320" cy="399.5" rx="2.8" ry="2.4" fill="#333" stroke="#000" stroke-width="0.9"/><ellipse cx="320" cy="399.3" rx="1.1199999999999999" ry="0.672" fill="#aaa"/>
<path d="M29.6,406.8 L62.6,374.6 L55.7,405.4 L29.6,414.2 Z" fill="none" stroke="#000" stroke-width="1.0" stroke-linejoin="round"/>
<path d="M30.8,408.5 L61.5,378" fill="none" stroke="#000" stroke-width="0.7" stroke-linejoin="round"/>
<ellipse cx="62.6" cy="389.5" rx="2.5" ry="2" fill="#fff" stroke="#000" stroke-width="1"/>
<g transform="translate(62.40,359.50) rotate(-90.0)"><path d="M1.5,-1.4 L5.6,-1.4 A1.4,1.4 0 0 1 5.6,1.4 L1.5,1.4" fill="#fff" stroke="#000" stroke-width="1.05"/><ellipse cx="0.5" cy="0" rx="1.68" ry="2.8" fill="#fff" stroke="#000" stroke-width="1.4"/></g>
<g transform="translate(81.10,365.50) rotate(-90.0)"><path d="M1.5,-1.4 L6.6,-1.4 A1.4,1.4 0 0 1 6.6,1.4 L1.5,1.4" fill="#fff" stroke="#000" stroke-width="1.05"/><ellipse cx="0.5" cy="0" rx="1.68" ry="2.8" fill="#fff" stroke="#000" stroke-width="1.4"/></g>
<g transform="translate(125.50,396.50) rotate(-90.0)"><path d="M1.5,-1.4 L5.6,-1.4 A1.4,1.4 0 0 1 5.6,1.4 L1.5,1.4" fill="#fff" stroke="#000" stroke-width="1.05"/><ellipse cx="0.5" cy="0" rx="1.68" ry="2.8" fill="#fff" stroke="#000" stroke-width="1.4"/></g>
<g transform="translate(143.60,403.50) rotate(-90.0)"><path d="M1.5,-1.4 L5.6,-1.4 A1.4,1.4 0 0 1 5.6,1.4 L1.5,1.4" fill="#fff" stroke="#000" stroke-width="1.05"/><ellipse cx="0.5" cy="0" rx="1.68" ry="2.8" fill="#fff" stroke="#000" stroke-width="1.4"/></g>
<g transform="translate(254.50,428.50) rotate(-90.0)"><path d="M1.5,-1.4 L5.900000000000011,-1.4 A1.4,1.4 0 0 1 5.900000000000011,1.4 L1.5,1.4" fill="#fff" stroke="#000" stroke-width="1.05"/><ellipse cx="0.5" cy="0" rx="1.68" ry="2.8" fill="#fff" stroke="#000" stroke-width="1.4"/></g>
<g transform="translate(277.50,428.50) rotate(-90.0)"><path d="M1.5,-1.4 L7.1,-1.4 A1.4,1.4 0 0 1 7.1,1.4 L1.5,1.4" fill="#fff" stroke="#000" stroke-width="1.05"/><ellipse cx="0.5" cy="0" rx="1.68" ry="2.8" fill="#fff" stroke="#000" stroke-width="1.4"/></g>
<g transform="translate(288.70,427.50) rotate(-90.0)"><path d="M1.5,-1.4 L6.1,-1.4 A1.4,1.4 0 0 1 6.1,1.4 L1.5,1.4" fill="#fff" stroke="#000" stroke-width="1.05"/><ellipse cx="0.5" cy="0" rx="1.68" ry="2.8" fill="#fff" stroke="#000" stroke-width="1.4"/></g>
<g transform="translate(320.30,425.00) rotate(-90.0)"><path d="M1.5,-1.4 L6.1,-1.4 A1.4,1.4 0 0 1 6.1,1.4 L1.5,1.4" fill="#fff" stroke="#000" stroke-width="1.05"/><ellipse cx="0.5" cy="0" rx="1.68" ry="2.8" fill="#fff" stroke="#000" stroke-width="1.4"/></g>
<path d="M211.2,440 L222.5,438.7 L223.7,461.2 L212.5,462.5 Z" fill="none" stroke="#000" stroke-width="1.0" stroke-linejoin="round"/>
<path d="M211.6,447.5 L222.9,446.6" fill="none" stroke="#000" stroke-width="0.8" stroke-linejoin="round"/>
<ellipse cx="217" cy="443.7" rx="1.6" ry="1.3" fill="none" stroke="#000" stroke-width="1.25"/>
<ellipse cx="218" cy="457.5" rx="1.6" ry="1.3" fill="none" stroke="#000" stroke-width="1.25"/>
<ellipse cx="231" cy="439.5" rx="2.3" ry="2.3" fill="#fff" stroke="#000" stroke-width="1"/>
<ellipse cx="230.5" cy="464.5" rx="2.3" ry="2.3" fill="#fff" stroke="#000" stroke-width="1"/>
<g transform="translate(219.50,486.50) rotate(90.0)"><path d="M1.5,-1.4 L3.6,-1.4 A1.4,1.4 0 0 1 3.6,1.4 L1.5,1.4" fill="#fff" stroke="#000" stroke-width="1.05"/><ellipse cx="0.5" cy="0" rx="1.44" ry="2.4" fill="#fff" stroke="#000" stroke-width="1.4"/></g>
<path d="M100.1,505.3 L194.9,503.2 L223.7,533.1 L210.3,538.3 L202.1,535.2 Q150,532 105.3,532.1 L99.1,526.9 Z" fill="none" stroke="#000" stroke-width="1.0" stroke-linejoin="round"/>
<path d="M200,523.8 L209.3,520.7 L220.6,533.1 M200,523.8 L209.3,537.2" fill="none" stroke="#000" stroke-width="0.8" stroke-linejoin="round"/>
<ellipse cx="108.4" cy="510.4" rx="2.1" ry="1.8" fill="none" stroke="#000" stroke-width="1.4"/>
<ellipse cx="136.2" cy="509.4" rx="2.1" ry="1.8" fill="none" stroke="#000" stroke-width="1.4"/>
<ellipse cx="166.7" cy="509.4" rx="2.1" ry="1.8" fill="none" stroke="#000" stroke-width="1.4"/>
<ellipse cx="187.1" cy="519.1" rx="2.1" ry="1.8" fill="none" stroke="#000" stroke-width="1.4"/>
<ellipse cx="211.4" cy="528" rx="2.1" ry="1.8" fill="none" stroke="#000" stroke-width="1.4"/>
<g transform="translate(115.00,537.50) rotate(90.0)"><path d="M1.5,-1.7 L5.3,-1.7 A1.7,1.7 0 0 1 5.3,1.7 L1.5,1.7" fill="#fff" stroke="#000" stroke-width="1.05"/><ellipse cx="0.5" cy="0" rx="1.44" ry="2.4" fill="#fff" stroke="#000" stroke-width="1.4"/></g>
<g transform="translate(143.80,539.00) rotate(90.0)"><path d="M1.5,-1.7 L5.3,-1.7 A1.7,1.7 0 0 1 5.3,1.7 L1.5,1.7" fill="#fff" stroke="#000" stroke-width="1.05"/><ellipse cx="0.5" cy="0" rx="1.44" ry="2.4" fill="#fff" stroke="#000" stroke-width="1.4"/></g>
<g transform="translate(175.00,539.00) rotate(90.0)"><path d="M1.5,-1.7 L5.3,-1.7 A1.7,1.7 0 0 1 5.3,1.7 L1.5,1.7" fill="#fff" stroke="#000" stroke-width="1.05"/><ellipse cx="0.5" cy="0" rx="1.44" ry="2.4" fill="#fff" stroke="#000" stroke-width="1.4"/></g>
<g transform="translate(192.50,540.50) rotate(90.0)"><path d="M1.5,-1.7 L5.3,-1.7 A1.7,1.7 0 0 1 5.3,1.7 L1.5,1.7" fill="#fff" stroke="#000" stroke-width="1.05"/><ellipse cx="0.5" cy="0" rx="1.44" ry="2.4" fill="#fff" stroke="#000" stroke-width="1.4"/></g>
<path d="M208.3,502.2 L225.8,497.5 L253.6,517.7 L253.6,519.7 L236.1,524.9 L209.3,505.3 Z" fill="none" stroke="#000" stroke-width="1.0" stroke-linejoin="round"/>
<path d="M209.3,505.3 L227,498.7 L253.6,517.7 M236.1,522.5 L253.6,517.7 M236.1,522.5 L236.1,524.9" fill="none" stroke="#000" stroke-width="0.8" stroke-linejoin="round"/>
<path d="M229,514 L252,516 L236.5,521.5 Z" fill="#d0d0d0" stroke="#999" stroke-width="0.4" stroke-linejoin="round"/>
<ellipse cx="222.7" cy="504.3" rx="1.7" ry="1.4" fill="none" stroke="#000" stroke-width="1.25"/>
<path d="M262,540.5 L355.5,537.9 L385.2,567.6 L384.4,569.3 L372.1,572.8 L358.1,570.2 Q320,568 266.4,566.7 L260.2,561.5 Z" fill="none" stroke="#000" stroke-width="1.0" stroke-linejoin="round"/>
<ellipse cx="269.9" cy="545.4" rx="2.1" ry="1.8" fill="none" stroke="#000" stroke-width="1.4"/>
<ellipse cx="297.8" cy="544.9" rx="2.1" ry="1.8" fill="none" stroke="#000" stroke-width="1.4"/>
<ellipse cx="328.1" cy="544.9" rx="2.1" ry="1.8" fill="none" stroke="#000" stroke-width="1.4"/>
<ellipse cx="349.1" cy="553.6" rx="2.1" ry="1.8" fill="none" stroke="#000" stroke-width="1.4"/>
<ellipse cx="367.8" cy="558.8" rx="1.3" ry="1.1" fill="none" stroke="#000" stroke-width="1.25"/>
<ellipse cx="374.2" cy="565.8" rx="1.3" ry="1.1" fill="none" stroke="#000" stroke-width="1.25"/>
<g transform="translate(276.90,571.50) rotate(90.0)"><path d="M1.5,-1.7 L5.3,-1.7 A1.7,1.7 0 0 1 5.3,1.7 L1.5,1.7" fill="#fff" stroke="#000" stroke-width="1.05"/><ellipse cx="0.5" cy="0" rx="1.44" ry="2.4" fill="#fff" stroke="#000" stroke-width="1.4"/></g>
<g transform="translate(304.80,574.00) rotate(90.0)"><path d="M1.5,-1.7 L5.3,-1.7 A1.7,1.7 0 0 1 5.3,1.7 L1.5,1.7" fill="#fff" stroke="#000" stroke-width="1.05"/><ellipse cx="0.5" cy="0" rx="1.44" ry="2.4" fill="#fff" stroke="#000" stroke-width="1.4"/></g>
<g transform="translate(335.10,573.00) rotate(90.0)"><path d="M1.5,-1.7 L4.8,-1.7 A1.7,1.7 0 0 1 4.8,1.7 L1.5,1.7" fill="#fff" stroke="#000" stroke-width="1.05"/><ellipse cx="0.5" cy="0" rx="1.44" ry="2.4" fill="#fff" stroke="#000" stroke-width="1.4"/></g>
<g transform="translate(355.00,577.50) rotate(90.0)"><path d="M1.5,-1.7 L4.8,-1.7 A1.7,1.7 0 0 1 4.8,1.7 L1.5,1.7" fill="#fff" stroke="#000" stroke-width="1.05"/><ellipse cx="0.5" cy="0" rx="1.44" ry="2.4" fill="#fff" stroke="#000" stroke-width="1.4"/></g>
<path d="M340.6,517.7 L356.1,514.1 L365.2,514.9 L399.7,534.5 L399,536.7 L380,533.1 L341.3,519.8 Z" fill="none" stroke="#000" stroke-width="1.0" stroke-linejoin="round"/>
<path d="M353.3,519 L364.5,515.5 M375.8,529.7 L387,527.5" fill="none" stroke="#000" stroke-width="0.7" stroke-linejoin="round"/>
<ellipse cx="366.2" cy="521.9" rx="1.4" ry="1.1" fill="none" stroke="#000" stroke-width="1.25"/>
<ellipse cx="373.3" cy="524.7" rx="1.4" ry="1.1" fill="none" stroke="#000" stroke-width="1.25"/>
<g transform="translate(367.10,500.50) rotate(90.0)"><path d="M1.5,-1.6 L7.4,-1.6 A1.6,1.6 0 0 1 7.4,1.6 L1.5,1.6" fill="#fff" stroke="#000" stroke-width="1.05"/><ellipse cx="0.5" cy="0" rx="1.44" ry="2.4" fill="#fff" stroke="#000" stroke-width="1.4"/></g>
<g transform="translate(374.10,504.00) rotate(90.0)"><path d="M1.5,-1.6 L7.4,-1.6 A1.6,1.6 0 0 1 7.4,1.6 L1.5,1.6" fill="#fff" stroke="#000" stroke-width="1.05"/><ellipse cx="0.5" cy="0" rx="1.44" ry="2.4" fill="#fff" stroke="#000" stroke-width="1.4"/></g>
<g transform="translate(418.00,474.50) rotate(90.0)"><path d="M1.5,-1.6 L7.9,-1.6 A1.6,1.6 0 0 1 7.9,1.6 L1.5,1.6" fill="#fff" stroke="#000" stroke-width="1.05"/><ellipse cx="0.5" cy="0" rx="1.44" ry="2.4" fill="#fff" stroke="#000" stroke-width="1.4"/></g>
<g transform="translate(425.00,481.50) rotate(90.0)"><path d="M1.5,-1.6 L7.9,-1.6 A1.6,1.6 0 0 1 7.9,1.6 L1.5,1.6" fill="#fff" stroke="#000" stroke-width="1.05"/><ellipse cx="0.5" cy="0" rx="1.44" ry="2.4" fill="#fff" stroke="#000" stroke-width="1.4"/></g>
<g transform="translate(472.00,525.00) rotate(90.0)"><path d="M1.5,-1.6 L7.9,-1.6 A1.6,1.6 0 0 1 7.9,1.6 L1.5,1.6" fill="#fff" stroke="#000" stroke-width="1.05"/><ellipse cx="0.5" cy="0" rx="1.44" ry="2.4" fill="#fff" stroke="#000" stroke-width="1.4"/></g>
<g transform="translate(479.30,527.50) rotate(90.0)"><path d="M1.5,-1.6 L8.299999999999978,-1.6 A1.6,1.6 0 0 1 8.299999999999978,1.6 L1.5,1.6" fill="#fff" stroke="#000" stroke-width="1.05"/><ellipse cx="0.5" cy="0" rx="1.44" ry="2.4" fill="#fff" stroke="#000" stroke-width="1.4"/></g>
<path d="M395.5,467.7 L403.9,470.5 L435.6,524 L434.9,526.1 L423.6,528.2 L406,521.2 L406,512 Z" fill="none" stroke="#000" stroke-width="1.0" stroke-linejoin="round"/>
<path d="M403.9,470.5 L402.5,471.5 L433,524.5 M406.5,512 L433,522.5" fill="none" stroke="#000" stroke-width="0.8" stroke-linejoin="round"/>
<ellipse cx="418" cy="521.2" rx="1.4" ry="1.1" fill="none" stroke="#000" stroke-width="1.25"/>
<ellipse cx="424.3" cy="524" rx="1.4" ry="1.1" fill="none" stroke="#000" stroke-width="1.25"/>
<path d="M445.2,541.4 L457.5,538.7 L464.5,538.3 L472.3,539.2 L504.7,558 L504.2,560.2 L486.3,559.3 L445.2,542.7 Z" fill="none" stroke="#000" stroke-width="1.0" stroke-linejoin="round"/>
<path d="M445.2,541.4 L486.5,557.5 L504.7,558 M456.6,544 L465.3,539.6 M480.2,553.2 L492.4,551" fill="none" stroke="#000" stroke-width="0.75" stroke-linejoin="round"/>
<ellipse cx="471.5" cy="545.3" rx="1.5" ry="1.1" fill="none" stroke="#000" stroke-width="1.3"/>
<ellipse cx="478.5" cy="548.4" rx="1.5" ry="1.1" fill="none" stroke="#000" stroke-width="1.3"/>
<path d="M473.2,573.6 L526,563 L552,582.5 L551.2,584.1 L494.4,592.2 Z" fill="none" stroke="#000" stroke-width="1.0" stroke-linejoin="round"/>
<path d="M474,575.2 L493.5,593.5 L551.2,585.5 L552,582.5" fill="none" stroke="#000" stroke-width="0.8" stroke-linejoin="round"/>
<path d="M526,563 L546.3,536.2 Q547,531.4 549.5,531.4 L554.4,532.2 Q558,535 560.9,538.7 Q564,543 567.4,543.5 L580.4,541.1 Q584,540.5 586.1,541.9 Q589,545 588.5,548.4 Q588,551 586.9,553.3 L552,582.5" fill="none" stroke="#000" stroke-width="1.0" stroke-linejoin="round"/>
<path d="M526.8,564.5 L551,583" fill="none" stroke="#000" stroke-width="0.8" stroke-linejoin="round"/>
<ellipse cx="555.2" cy="558.1" rx="3" ry="3.3" fill="#222" stroke="#000" stroke-width="0.8"/><ellipse cx="555.5" cy="558.3000000000001" rx="1.3" ry="1.5" fill="#bbb"/>
<ellipse cx="562.5" cy="563" rx="3" ry="3.3" fill="#222" stroke="#000" stroke-width="0.8"/><ellipse cx="562.8" cy="563.2" rx="1.3" ry="1.5" fill="#bbb"/>
<ellipse cx="544.7" cy="567.1" rx="3" ry="3.3" fill="#222" stroke="#000" stroke-width="0.8"/><ellipse cx="545.0" cy="567.3000000000001" rx="1.3" ry="1.5" fill="#bbb"/>
<ellipse cx="552.8" cy="572" rx="3" ry="3.3" fill="#222" stroke="#000" stroke-width="0.8"/><ellipse cx="553.0999999999999" cy="572.2" rx="1.3" ry="1.5" fill="#bbb"/>
<ellipse cx="508.1" cy="585.7" rx="2.5" ry="1.9" fill="none" stroke="#000" stroke-width="1.4"/>
<ellipse cx="532.5" cy="581.7" rx="2.5" ry="1.9" fill="none" stroke="#000" stroke-width="1.4"/>
<ellipse cx="500" cy="581.4" rx="1.3" ry="0.9" fill="none" stroke="#000" stroke-width="1.1"/>
<ellipse cx="524.4" cy="577.1" rx="1.3" ry="0.9" fill="none" stroke="#000" stroke-width="1.1"/>
<ellipse cx="551.2" cy="537" rx="1" ry="1.3" fill="none" stroke="#000" stroke-width="1.1"/>
<ellipse cx="582.8" cy="546.8" rx="1" ry="1.3" fill="none" stroke="#000" stroke-width="1.1"/>
<ellipse cx="533.3" cy="546.8" rx="5.6" ry="5.8" fill="#fff" stroke="#000" stroke-width="1.1"/><path d="M533,541 L537,540.5 Q540.5,544 539,549 L537.5,552" fill="none" stroke="#000" stroke-width="0.8"/><ellipse cx="531.8" cy="547.5" rx="2.2" ry="2.6" fill="none" stroke="#000" stroke-width="1"/>
<polygon points="524.90,550.80 523.45,553.31 520.55,553.31 519.10,550.80 520.55,548.29 523.45,548.29" fill="#fff" stroke="#000" stroke-width="1.2"/><circle cx="521.7" cy="550.5" r="1.218" fill="none" stroke="#000" stroke-width="0.9"/>
<ellipse cx="569" cy="533" rx="3.6" ry="4.2" fill="#fff" stroke="#000" stroke-width="1.2"/><ellipse cx="569" cy="533.3" rx="1.3" ry="1.7" fill="none" stroke="#000" stroke-width="0.9"/>
<ellipse cx="597.6" cy="543.3" rx="3.6" ry="4.2" fill="#fff" stroke="#000" stroke-width="1.2"/><ellipse cx="597.6" cy="543.5" rx="1.3" ry="1.7" fill="none" stroke="#000" stroke-width="0.9"/>
<g transform="translate(590.10,525.70) rotate(162.1)"><path d="M1.5,-1.7 L11.961625086350432,-1.7 A1.7,1.7 0 0 1 11.961625086350432,1.7 L1.5,1.7" fill="#fff" stroke="#000" stroke-width="1.05"/><ellipse cx="0.5" cy="0" rx="1.56" ry="2.6" fill="#fff" stroke="#000" stroke-width="1.4"/></g>
<g transform="translate(620.50,535.50) rotate(157.7)"><path d="M1.5,-1.7 L14.40031055601101,-1.7 A1.7,1.7 0 0 1 14.40031055601101,1.7 L1.5,1.7" fill="#fff" stroke="#000" stroke-width="1.05"/><ellipse cx="0.5" cy="0" rx="1.7999999999999998" ry="3" fill="#fff" stroke="#000" stroke-width="1.4"/></g>
<path d="M364.1,386.5 L374.9,380.7 L411.3,392.3 L413,398.9 L387.3,400.5 L365.8,392.3 Z" fill="none" stroke="#000" stroke-width="1.0" stroke-linejoin="round"/>
<path d="M365.8,392.3 Q372,396 373.2,398 Q376,404 375.7,411.3 L375.7,438.6 Q400,440.5 409.7,441.1 L434.5,442.7 Q450,444.5 459.3,446.9 L470.9,450.2 L474.2,447.7 L425.4,401.4 L414.6,399.7" fill="none" stroke="#000" stroke-width="1.0" stroke-linejoin="round"/>
<path d="M414.6,399.7 L470.9,450.2" fill="none" stroke="#000" stroke-width="0.9" stroke-linejoin="round"/>
<path d="M397.3,375.7 L410.5,358.3 L418.8,360.8 L427.9,382.3 L427,388.1 L437,403 L435.3,404.7 L425.4,399.7 L411.3,390.6 L403.9,386.5 Z" fill="none" stroke="#000" stroke-width="1.0" stroke-linejoin="round"/>
<path d="M375.7,427 L452.7,427 M375.7,429.5 L444.4,420.4 M376.6,412.1 Q380,402 389.8,400.5 M418,401.4 L420.4,426.2 M422,401.4 L423.7,426.2" fill="none" stroke="#000" stroke-width="0.8" stroke-linejoin="round"/>
<ellipse cx="404.7" cy="380.7" rx="1.4" ry="0.9799999999999999" fill="none" stroke="#000" stroke-width="1.25"/>
<ellipse cx="422.1" cy="377.4" rx="2" ry="1.4" fill="none" stroke="#000" stroke-width="1.25"/>
<ellipse cx="376.6" cy="381.5" rx="1.4" ry="0.9799999999999999" fill="none" stroke="#000" stroke-width="1.25"/>
<ellipse cx="382.4" cy="386.5" rx="1.5" ry="1.0499999999999998" fill="none" stroke="#000" stroke-width="1.25"/>
<ellipse cx="372.4" cy="389.8" rx="1.5" ry="1.0499999999999998" fill="none" stroke="#000" stroke-width="1.25"/>
<ellipse cx="408" cy="395.6" rx="1.5" ry="1.0499999999999998" fill="none" stroke="#000" stroke-width="1.25"/>
<ellipse cx="378.2" cy="420.4" rx="1.4" ry="1.1" fill="none" stroke="#000" stroke-width="1.25"/>
<ellipse cx="400.6" cy="419.6" rx="1.4" ry="1.1" fill="none" stroke="#000" stroke-width="1.25"/>
<ellipse cx="378.2" cy="432.8" rx="1.4" ry="1.1" fill="none" stroke="#000" stroke-width="1.25"/>
<ellipse cx="406.4" cy="432" rx="1.4" ry="1.1" fill="none" stroke="#000" stroke-width="1.25"/>
<ellipse cx="436.2" cy="432" rx="1.4" ry="1.1" fill="none" stroke="#000" stroke-width="1.25"/>
<ellipse cx="457.7" cy="441.4" rx="1.4" ry="1.1" fill="none" stroke="#000" stroke-width="1.25"/>
<rect x="411" y="405" width="2.6" height="3.6" fill="none" stroke="#000" stroke-width="0.8"/><rect x="426.7" y="411" width="2.6" height="3.6" fill="none" stroke="#000" stroke-width="0.8"/>
<path d="M447.7,350.2 L451.9,347.6 L472.4,345 L489.5,349.3 L493.5,352.3 L516.7,372 L524.8,376.1 L529.7,385.7 L544.5,412.6 L545.6,416 L541,419.5 L529.7,413.9 L513.1,403.1 Q505,399.5 496.6,396.5 L480,391.1 L451.9,380.5 L451.9,355.3 L447.7,352.7 Z" fill="none" stroke="#000" stroke-width="1.0" stroke-linejoin="round"/>
<path d="M451.9,355.3 L490,365 M451.9,357.8 L485,371.7 L494.9,373.7 L499.9,378.3 L504.8,384.9 L512.3,393.2 L529.7,408.9 L541,418.4" fill="none" stroke="#000" stroke-width="0.8" stroke-linejoin="round"/>
<path d="M490,365 Q493,362 497,365 L499.9,378.3 M512.3,393.2 L518.1,389.5 L529.7,401.5 M518.1,399 L523.9,396.1 M518.1,381.6 L523.9,394.8 M489.5,349.3 L497.5,367 M523.9,375.8 L529.7,385.7 L544,412.5" fill="none" stroke="#000" stroke-width="0.75" stroke-linejoin="round"/>
<path d="M481,328.8 L503.1,374.9" stroke="#000" stroke-width="3.6" stroke-linecap="round"/><path d="M481,328.8 L503.1,374.9" stroke="#fff" stroke-width="1.6" stroke-linecap="round"/>
<path d="M503.5,367 L520.5,384.5" stroke="#000" stroke-width="3" stroke-linecap="round"/><path d="M504.5,369.5 L519,383" stroke="#888" stroke-width="0.8"/>
<path d="M510,373 L514,370.5 M515,378 L519,375.5" stroke="#000" stroke-width="1.6"/>
<ellipse cx="452" cy="350.2" rx="1.7" ry="1.1" fill="none" stroke="#000" stroke-width="1.25"/>
<ellipse cx="463" cy="352.7" rx="1.7" ry="1.1" fill="none" stroke="#000" stroke-width="1.25"/>
<ellipse cx="472.4" cy="348.5" rx="1.7" ry="1.1" fill="none" stroke="#000" stroke-width="1.25"/>
<ellipse cx="488.6" cy="362.1" rx="1.7" ry="1.1" fill="none" stroke="#000" stroke-width="1.25"/>
<ellipse cx="455.4" cy="371.5" rx="1.1" ry="1.5" fill="none" stroke="#000" stroke-width="1.25"/>
<ellipse cx="486.6" cy="383.7" rx="1.1" ry="1.5" fill="none" stroke="#000" stroke-width="1.25"/>
<ellipse cx="510.2" cy="398.1" rx="1.1" ry="1.5" fill="none" stroke="#000" stroke-width="1.25"/>
<ellipse cx="513.1" cy="374.1" rx="1.1" ry="1.5" fill="none" stroke="#000" stroke-width="1.25"/>
<ellipse cx="527.2" cy="394" rx="1.1" ry="1.5" fill="none" stroke="#000" stroke-width="1.25"/>
<path d="M588.2,445 L642.9,444.2 L649.6,449.5 L676.6,472.7 L580,468.2 Q574,466 572.5,463.7 L572.5,462.2 Z" fill="none" stroke="#000" stroke-width="1.0" stroke-linejoin="round"/>
<path d="M649.6,449.5 L648,450.5 L675,472.5 M580,469.6 L676.6,474.1 L676.6,472.7" fill="none" stroke="#000" stroke-width="0.9" stroke-linejoin="round"/>
<ellipse cx="598.7" cy="450.5" rx="1.6" ry="1.3" fill="none" stroke="#000" stroke-width="1.25"/>
<rect x="624.5" y="448.5" width="6.8" height="3.4" rx="1.7" fill="none" stroke="#000" stroke-width="1.1"/>
<g transform="translate(592.70,428.50) rotate(90.0)"><path d="M1.5,-1.6 L4.4,-1.6 A1.6,1.6 0 0 1 4.4,1.6 L1.5,1.6" fill="#fff" stroke="#000" stroke-width="1.05"/><ellipse cx="0.5" cy="0" rx="1.92" ry="3.2" fill="#fff" stroke="#000" stroke-width="1.4"/></g>
<g transform="translate(623.40,428.00) rotate(90.0)"><path d="M1.5,-1.6 L4.200000000000012,-1.6 A1.6,1.6 0 0 1 4.200000000000012,1.6 L1.5,1.6" fill="#fff" stroke="#000" stroke-width="1.05"/><ellipse cx="0.5" cy="0" rx="1.92" ry="3.2" fill="#fff" stroke="#000" stroke-width="1.4"/></g>
<g transform="translate(681.80,426.50) rotate(90.0)"><path d="M1.5,-1.6 L3.9,-1.6 A1.6,1.6 0 0 1 3.9,1.6 L1.5,1.6" fill="#fff" stroke="#000" stroke-width="1.05"/><ellipse cx="0.5" cy="0" rx="1.92" ry="3.2" fill="#fff" stroke="#000" stroke-width="1.4"/></g>
<g transform="translate(703.00,428.50) rotate(90.0)"><path d="M1.5,-1.6 L3.9,-1.6 A1.6,1.6 0 0 1 3.9,1.6 L1.5,1.6" fill="#fff" stroke="#000" stroke-width="1.05"/><ellipse cx="0.5" cy="0" rx="1.92" ry="3.2" fill="#fff" stroke="#000" stroke-width="1.4"/></g>
<path d="M669.5,444.9 L713,441.5 L739.9,461.6 L736.5,469.4 L725.3,466.1 L720.9,468.3 L728.7,475 L727.6,478.4 L708.6,473.9 L704.1,473.9 Z" fill="none" stroke="#000" stroke-width="1.0" stroke-linejoin="round"/>
<path d="M704.1,475.3 L727.6,479.8 M736.5,469.4 L737.5,468" fill="none" stroke="#000" stroke-width="0.8" stroke-linejoin="round"/>
<ellipse cx="684" cy="448.7" rx="1.5" ry="1.2" fill="none" stroke="#000" stroke-width="1.25"/>
<ellipse cx="705.2" cy="456" rx="1.5" ry="1.2" fill="none" stroke="#000" stroke-width="1.25"/>
<path d="M736.6,480.6 L741.6,475.3 L751.2,481.2 L743.7,486.9 Z" fill="none" stroke="#000" stroke-width="1.2" stroke-linejoin="round"/>
<path d="M736.6,480.6 L736.9,483.4 L743.4,488.7 L743.7,486.9" fill="none" stroke="#000" stroke-width="1.1" stroke-linejoin="round"/>
<path d="M751.2,481.2 L756.5,477.2 L773.7,491.2 L767.5,496.9 L754.4,501.2 L743.1,494.3 L742.8,491.2 L743.7,488.7" fill="none" stroke="#000" stroke-width="1.2" stroke-linejoin="round"/>
<path d="M743.1,492.5 L754.4,499.5 L767.5,495.3 L772.5,490.5" fill="none" stroke="#000" stroke-width="0.8" stroke-linejoin="round"/>
<path d="M771.7,384.9 L773.5,384 L779.1,386.2 L778.5,418.4 L776.6,444.5 L774.2,444.5 Z" fill="none" stroke="#000" stroke-width="0.85" stroke-linejoin="round"/>
<path d="M776.6,386.5 L776.6,444 M776.6,391 L779.7,391.5 L779.5,398.6 L776.6,398.6 M776.3,418.4 L778.5,418.4" fill="none" stroke="#000" stroke-width="0.6" stroke-linejoin="round"/>
<ellipse cx="774.2" cy="388.6" rx="0.6" ry="0.9" fill="none" stroke="#000" stroke-width="0.7"/>
<circle cx="131.2" cy="36.2" r="10" fill="none" stroke="#555" stroke-width="0.85"/>
<g fill="none" stroke="#606060" stroke-width="0.8"><path transform="translate(125.80,32.85)" d="M1.1,1.3 L2.7,0 L2.7,6.7"/><path transform="translate(131.80,32.85)" d="M4.3,1.0 C3.9,0.3 3.2,0 2.5,0 C1,0 0,1.4 0,3.6 C0,5.6 1,6.7 2.4,6.7 C3.8,6.7 4.8,5.8 4.8,4.5 C4.8,3.2 3.8,2.4 2.5,2.4 C1.3,2.4 0.4,3 0,3.9"/></g>
<circle cx="266.8" cy="34.1" r="10" fill="none" stroke="#555" stroke-width="0.85"/>
<g fill="none" stroke="#606060" stroke-width="0.8"><path transform="translate(261.40,30.75)" d="M1.1,1.3 L2.7,0 L2.7,6.7"/><path transform="translate(267.40,30.75)" d="M0.4,1.0 C0.9,0.3 1.6,0 2.4,0 C3.6,0 4.4,0.7 4.4,1.7 C4.4,2.7 3.6,3.3 2.2,3.3 C3.8,3.3 4.8,4 4.8,5 C4.8,6.1 3.8,6.7 2.4,6.7 C1.3,6.7 0.5,6.3 0,5.6"/></g>
<circle cx="138.8" cy="75" r="10" fill="none" stroke="#555" stroke-width="0.85"/>
<g fill="none" stroke="#606060" stroke-width="0.8"><path transform="translate(136.40,71.65)" d="M4.4,0 L0.8,0 L0.4,3.1 C0.9,2.6 1.6,2.4 2.4,2.4 C3.8,2.4 4.8,3.3 4.8,4.5 C4.8,5.8 3.8,6.7 2.3,6.7 C1.3,6.7 0.5,6.3 0,5.6"/></g>
<circle cx="159.3" cy="106.2" r="10" fill="none" stroke="#555" stroke-width="0.85"/>
<g fill="none" stroke="#606060" stroke-width="0.8"><path transform="translate(153.90,102.85)" d="M1.1,1.3 L2.7,0 L2.7,6.7"/><path transform="translate(159.90,102.85)" d="M4.4,0 L0.8,0 L0.4,3.1 C0.9,2.6 1.6,2.4 2.4,2.4 C3.8,2.4 4.8,3.3 4.8,4.5 C4.8,5.8 3.8,6.7 2.3,6.7 C1.3,6.7 0.5,6.3 0,5.6"/></g>
<circle cx="159.3" cy="147.2" r="10" fill="none" stroke="#555" stroke-width="0.85"/>
<g fill="none" stroke="#606060" stroke-width="0.8"><path transform="translate(153.90,143.85)" d="M1.1,1.3 L2.7,0 L2.7,6.7"/><path transform="translate(159.90,143.85)" d="M0.5,5.7 C0.9,6.4 1.6,6.7 2.3,6.7 C3.8,6.7 4.8,5.3 4.8,3.1 C4.8,1.1 3.8,0 2.4,0 C1,0 0,0.9 0,2.2 C0,3.5 1,4.3 2.3,4.3 C3.5,4.3 4.4,3.7 4.8,2.8"/></g>
<circle cx="290.4" cy="132.3" r="10" fill="none" stroke="#555" stroke-width="0.85"/>
<g fill="none" stroke="#606060" stroke-width="0.8"><path transform="translate(285.00,128.95)" d="M1.1,1.3 L2.7,0 L2.7,6.7"/><path transform="translate(291.00,128.95)" d="M2.4,0 C4,0 4.8,1.5 4.8,3.35 C4.8,5.2 4,6.7 2.4,6.7 C0.8,6.7 0,5.2 0,3.35 C0,1.5 0.8,0 2.4,0 Z"/></g>
<circle cx="324.5" cy="34.6" r="10" fill="none" stroke="#555" stroke-width="0.85"/>
<g fill="none" stroke="#606060" stroke-width="0.8"><path transform="translate(319.10,31.25)" d="M0.4,1.0 C0.9,0.3 1.6,0 2.4,0 C3.6,0 4.4,0.7 4.4,1.7 C4.4,2.7 3.6,3.3 2.2,3.3 C3.8,3.3 4.8,4 4.8,5 C4.8,6.1 3.8,6.7 2.4,6.7 C1.3,6.7 0.5,6.3 0,5.6"/><path transform="translate(325.10,31.25)" d="M2.4,3.15 C1.1,3.15 0.3,2.5 0.3,1.6 C0.3,0.6 1.2,0 2.4,0 C3.6,0 4.5,0.6 4.5,1.6 C4.5,2.5 3.7,3.15 2.4,3.15 C1,3.15 0,3.9 0,5 C0,6.1 1,6.7 2.4,6.7 C3.8,6.7 4.8,6.1 4.8,5 C4.8,3.9 3.8,3.15 2.4,3.15 Z"/></g>
<circle cx="354" cy="40.5" r="10" fill="none" stroke="#555" stroke-width="0.85"/>
<g fill="none" stroke="#606060" stroke-width="0.8"><path transform="translate(348.60,37.15)" d="M1.1,1.3 L2.7,0 L2.7,6.7"/><path transform="translate(354.60,37.15)" d="M2.4,3.15 C1.1,3.15 0.3,2.5 0.3,1.6 C0.3,0.6 1.2,0 2.4,0 C3.6,0 4.5,0.6 4.5,1.6 C4.5,2.5 3.7,3.15 2.4,3.15 C1,3.15 0,3.9 0,5 C0,6.1 1,6.7 2.4,6.7 C3.8,6.7 4.8,6.1 4.8,5 C4.8,3.9 3.8,3.15 2.4,3.15 Z"/></g>
<circle cx="380" cy="44.3" r="10" fill="none" stroke="#555" stroke-width="0.85"/>
<g fill="none" stroke="#606060" stroke-width="0.8"><path transform="translate(374.60,40.95)" d="M3.6,6.7 L3.6,0 L0,4.7 L4.8,4.7"/><path transform="translate(380.60,40.95)" d="M4.3,1.0 C3.9,0.3 3.2,0 2.5,0 C1,0 0,1.4 0,3.6 C0,5.6 1,6.7 2.4,6.7 C3.8,6.7 4.8,5.8 4.8,4.5 C4.8,3.2 3.8,2.4 2.5,2.4 C1.3,2.4 0.4,3 0,3.9"/></g>
<circle cx="388.8" cy="115.8" r="10" fill="none" stroke="#555" stroke-width="0.85"/>
<g fill="none" stroke="#606060" stroke-width="0.8"><path transform="translate(380.40,112.45)" d="M1.1,1.3 L2.7,0 L2.7,6.7"/><path transform="translate(386.40,112.45)" d="M2.4,0 C4,0 4.8,1.5 4.8,3.35 C4.8,5.2 4,6.7 2.4,6.7 C0.8,6.7 0,5.2 0,3.35 C0,1.5 0.8,0 2.4,0 Z"/><path transform="translate(392.40,112.45)" d="M4.3,1.0 C3.9,0.3 3.2,0 2.5,0 C1,0 0,1.4 0,3.6 C0,5.6 1,6.7 2.4,6.7 C3.8,6.7 4.8,5.8 4.8,4.5 C4.8,3.2 3.8,2.4 2.5,2.4 C1.3,2.4 0.4,3 0,3.9"/></g>
<circle cx="420.4" cy="114.4" r="10" fill="none" stroke="#555" stroke-width="0.85"/>
<g fill="none" stroke="#606060" stroke-width="0.8"><path transform="translate(415.00,111.05)" d="M0.4,1.0 C0.9,0.3 1.6,0 2.4,0 C3.6,0 4.4,0.7 4.4,1.7 C4.4,2.7 3.6,3.3 2.2,3.3 C3.8,3.3 4.8,4 4.8,5 C4.8,6.1 3.8,6.7 2.4,6.7 C1.3,6.7 0.5,6.3 0,5.6"/><path transform="translate(421.00,111.05)" d="M3.6,6.7 L3.6,0 L0,4.7 L4.8,4.7"/></g>
<circle cx="503.4" cy="33.7" r="10" fill="none" stroke="#555" stroke-width="0.85"/>
<g fill="none" stroke="#606060" stroke-width="0.8"><path transform="translate(498.00,30.35)" d="M3.6,6.7 L3.6,0 L0,4.7 L4.8,4.7"/><path transform="translate(504.00,30.35)" d="M4.4,0 L0.8,0 L0.4,3.1 C0.9,2.6 1.6,2.4 2.4,2.4 C3.8,2.4 4.8,3.3 4.8,4.5 C4.8,5.8 3.8,6.7 2.3,6.7 C1.3,6.7 0.5,6.3 0,5.6"/></g>
<circle cx="496.3" cy="55.3" r="10" fill="none" stroke="#555" stroke-width="0.85"/>
<g fill="none" stroke="#606060" stroke-width="0.8"><path transform="translate(490.90,51.95)" d="M0.4,1.0 C0.9,0.3 1.6,0 2.4,0 C3.6,0 4.4,0.7 4.4,1.7 C4.4,2.7 3.6,3.3 2.2,3.3 C3.8,3.3 4.8,4 4.8,5 C4.8,6.1 3.8,6.7 2.4,6.7 C1.3,6.7 0.5,6.3 0,5.6"/><path transform="translate(496.90,51.95)" d="M0.3,1.6 C0.5,0.6 1.3,0 2.4,0 C3.7,0 4.5,0.8 4.5,1.9 C4.5,3.1 3.5,3.9 0.1,6.7 L4.8,6.7"/></g>
<circle cx="493.5" cy="81.1" r="10" fill="none" stroke="#555" stroke-width="0.85"/>
<g fill="none" stroke="#606060" stroke-width="0.8"><path transform="translate(488.10,77.75)" d="M0.4,1.0 C0.9,0.3 1.6,0 2.4,0 C3.6,0 4.4,0.7 4.4,1.7 C4.4,2.7 3.6,3.3 2.2,3.3 C3.8,3.3 4.8,4 4.8,5 C4.8,6.1 3.8,6.7 2.4,6.7 C1.3,6.7 0.5,6.3 0,5.6"/><path transform="translate(494.10,77.75)" d="M0.4,1.0 C0.9,0.3 1.6,0 2.4,0 C3.6,0 4.4,0.7 4.4,1.7 C4.4,2.7 3.6,3.3 2.2,3.3 C3.8,3.3 4.8,4 4.8,5 C4.8,6.1 3.8,6.7 2.4,6.7 C1.3,6.7 0.5,6.3 0,5.6"/></g>
<circle cx="490.1" cy="106.5" r="10" fill="none" stroke="#555" stroke-width="0.85"/>
<g fill="none" stroke="#606060" stroke-width="0.8"><path transform="translate(484.70,103.15)" d="M0.4,1.0 C0.9,0.3 1.6,0 2.4,0 C3.6,0 4.4,0.7 4.4,1.7 C4.4,2.7 3.6,3.3 2.2,3.3 C3.8,3.3 4.8,4 4.8,5 C4.8,6.1 3.8,6.7 2.4,6.7 C1.3,6.7 0.5,6.3 0,5.6"/><path transform="translate(490.70,103.15)" d="M1.1,1.3 L2.7,0 L2.7,6.7"/></g>
<circle cx="380.8" cy="143.6" r="10" fill="none" stroke="#555" stroke-width="0.85"/>
<g fill="none" stroke="#606060" stroke-width="0.8"><path transform="translate(375.40,140.25)" d="M0.4,1.0 C0.9,0.3 1.6,0 2.4,0 C3.6,0 4.4,0.7 4.4,1.7 C4.4,2.7 3.6,3.3 2.2,3.3 C3.8,3.3 4.8,4 4.8,5 C4.8,6.1 3.8,6.7 2.4,6.7 C1.3,6.7 0.5,6.3 0,5.6"/><path transform="translate(381.40,140.25)" d="M2.4,3.15 C1.1,3.15 0.3,2.5 0.3,1.6 C0.3,0.6 1.2,0 2.4,0 C3.6,0 4.5,0.6 4.5,1.6 C4.5,2.5 3.7,3.15 2.4,3.15 C1,3.15 0,3.9 0,5 C0,6.1 1,6.7 2.4,6.7 C3.8,6.7 4.8,6.1 4.8,5 C4.8,3.9 3.8,3.15 2.4,3.15 Z"/></g>
<circle cx="368.6" cy="163.7" r="10" fill="none" stroke="#555" stroke-width="0.85"/>
<g fill="none" stroke="#606060" stroke-width="0.8"><path transform="translate(366.20,160.35)" d="M3.6,6.7 L3.6,0 L0,4.7 L4.8,4.7"/></g>
<circle cx="436.8" cy="157" r="10" fill="none" stroke="#555" stroke-width="0.85"/>
<g fill="none" stroke="#606060" stroke-width="0.8"><path transform="translate(431.40,153.65)" d="M0.4,1.0 C0.9,0.3 1.6,0 2.4,0 C3.6,0 4.4,0.7 4.4,1.7 C4.4,2.7 3.6,3.3 2.2,3.3 C3.8,3.3 4.8,4 4.8,5 C4.8,6.1 3.8,6.7 2.4,6.7 C1.3,6.7 0.5,6.3 0,5.6"/><path transform="translate(437.40,153.65)" d="M2.4,0 C4,0 4.8,1.5 4.8,3.35 C4.8,5.2 4,6.7 2.4,6.7 C0.8,6.7 0,5.2 0,3.35 C0,1.5 0.8,0 2.4,0 Z"/></g>
<circle cx="306.2" cy="182.4" r="10" fill="none" stroke="#555" stroke-width="0.85"/>
<g fill="none" stroke="#606060" stroke-width="0.8"><path transform="translate(300.80,179.05)" d="M0.4,1.0 C0.9,0.3 1.6,0 2.4,0 C3.6,0 4.4,0.7 4.4,1.7 C4.4,2.7 3.6,3.3 2.2,3.3 C3.8,3.3 4.8,4 4.8,5 C4.8,6.1 3.8,6.7 2.4,6.7 C1.3,6.7 0.5,6.3 0,5.6"/><path transform="translate(306.80,179.05)" d="M0,0 L4.8,0 C3,1.9 2,4.2 1.6,6.7"/></g>
<circle cx="448.5" cy="188.6" r="10" fill="none" stroke="#555" stroke-width="0.85"/>
<g fill="none" stroke="#606060" stroke-width="0.8"><path transform="translate(443.10,185.25)" d="M1.1,1.3 L2.7,0 L2.7,6.7"/><path transform="translate(449.10,185.25)" d="M0,0 L4.8,0 C3,1.9 2,4.2 1.6,6.7"/></g>
<circle cx="417" cy="248.5" r="10" fill="none" stroke="#555" stroke-width="0.85"/>
<g fill="none" stroke="#606060" stroke-width="0.8"><path transform="translate(411.60,245.15)" d="M0.3,1.6 C0.5,0.6 1.3,0 2.4,0 C3.7,0 4.5,0.8 4.5,1.9 C4.5,3.1 3.5,3.9 0.1,6.7 L4.8,6.7"/><path transform="translate(417.60,245.15)" d="M0.4,1.0 C0.9,0.3 1.6,0 2.4,0 C3.6,0 4.4,0.7 4.4,1.7 C4.4,2.7 3.6,3.3 2.2,3.3 C3.8,3.3 4.8,4 4.8,5 C4.8,6.1 3.8,6.7 2.4,6.7 C1.3,6.7 0.5,6.3 0,5.6"/></g>
<circle cx="455.9" cy="277.5" r="10" fill="none" stroke="#555" stroke-width="0.85"/>
<g fill="none" stroke="#606060" stroke-width="0.8"><path transform="translate(450.50,274.15)" d="M0.4,1.0 C0.9,0.3 1.6,0 2.4,0 C3.6,0 4.4,0.7 4.4,1.7 C4.4,2.7 3.6,3.3 2.2,3.3 C3.8,3.3 4.8,4 4.8,5 C4.8,6.1 3.8,6.7 2.4,6.7 C1.3,6.7 0.5,6.3 0,5.6"/><path transform="translate(456.50,274.15)" d="M4.3,1.0 C3.9,0.3 3.2,0 2.5,0 C1,0 0,1.4 0,3.6 C0,5.6 1,6.7 2.4,6.7 C3.8,6.7 4.8,5.8 4.8,4.5 C4.8,3.2 3.8,2.4 2.5,2.4 C1.3,2.4 0.4,3 0,3.9"/></g>
<circle cx="456.2" cy="311.4" r="10" fill="none" stroke="#555" stroke-width="0.85"/>
<g fill="none" stroke="#606060" stroke-width="0.8"><path transform="translate(450.80,308.05)" d="M0.4,1.0 C0.9,0.3 1.6,0 2.4,0 C3.6,0 4.4,0.7 4.4,1.7 C4.4,2.7 3.6,3.3 2.2,3.3 C3.8,3.3 4.8,4 4.8,5 C4.8,6.1 3.8,6.7 2.4,6.7 C1.3,6.7 0.5,6.3 0,5.6"/><path transform="translate(456.80,308.05)" d="M4.4,0 L0.8,0 L0.4,3.1 C0.9,2.6 1.6,2.4 2.4,2.4 C3.8,2.4 4.8,3.3 4.8,4.5 C4.8,5.8 3.8,6.7 2.3,6.7 C1.3,6.7 0.5,6.3 0,5.6"/></g>
<circle cx="353.8" cy="304" r="10" fill="none" stroke="#555" stroke-width="0.85"/>
<g fill="none" stroke="#606060" stroke-width="0.8"><path transform="translate(348.40,300.65)" d="M0.3,1.6 C0.5,0.6 1.3,0 2.4,0 C3.7,0 4.5,0.8 4.5,1.9 C4.5,3.1 3.5,3.9 0.1,6.7 L4.8,6.7"/><path transform="translate(354.40,300.65)" d="M2.4,3.15 C1.1,3.15 0.3,2.5 0.3,1.6 C0.3,0.6 1.2,0 2.4,0 C3.6,0 4.5,0.6 4.5,1.6 C4.5,2.5 3.7,3.15 2.4,3.15 C1,3.15 0,3.9 0,5 C0,6.1 1,6.7 2.4,6.7 C3.8,6.7 4.8,6.1 4.8,5 C4.8,3.9 3.8,3.15 2.4,3.15 Z"/></g>
<circle cx="346.2" cy="335.6" r="10" fill="none" stroke="#555" stroke-width="0.85"/>
<g fill="none" stroke="#606060" stroke-width="0.8"><path transform="translate(343.80,332.25)" d="M2.4,3.15 C1.1,3.15 0.3,2.5 0.3,1.6 C0.3,0.6 1.2,0 2.4,0 C3.6,0 4.5,0.6 4.5,1.6 C4.5,2.5 3.7,3.15 2.4,3.15 C1,3.15 0,3.9 0,5 C0,6.1 1,6.7 2.4,6.7 C3.8,6.7 4.8,6.1 4.8,5 C4.8,3.9 3.8,3.15 2.4,3.15 Z"/></g>
<circle cx="94.5" cy="205" r="10" fill="none" stroke="#555" stroke-width="0.85"/>
<g fill="none" stroke="#606060" stroke-width="0.8"><path transform="translate(89.10,201.65)" d="M1.1,1.3 L2.7,0 L2.7,6.7"/><path transform="translate(95.10,201.65)" d="M3.6,6.7 L3.6,0 L0,4.7 L4.8,4.7"/></g>
<circle cx="133" cy="203" r="10" fill="none" stroke="#555" stroke-width="0.85"/>
<g fill="none" stroke="#606060" stroke-width="0.8"><path transform="translate(127.60,199.65)" d="M1.1,1.3 L2.7,0 L2.7,6.7"/><path transform="translate(133.60,199.65)" d="M0.4,1.0 C0.9,0.3 1.6,0 2.4,0 C3.6,0 4.4,0.7 4.4,1.7 C4.4,2.7 3.6,3.3 2.2,3.3 C3.8,3.3 4.8,4 4.8,5 C4.8,6.1 3.8,6.7 2.4,6.7 C1.3,6.7 0.5,6.3 0,5.6"/></g>
<circle cx="156.7" cy="195" r="10" fill="none" stroke="#555" stroke-width="0.85"/>
<g fill="none" stroke="#606060" stroke-width="0.8"><path transform="translate(151.30,191.65)" d="M1.1,1.3 L2.7,0 L2.7,6.7"/><path transform="translate(157.30,191.65)" d="M1.1,1.3 L2.7,0 L2.7,6.7"/></g>
<circle cx="189.2" cy="210.5" r="10" fill="none" stroke="#555" stroke-width="0.85"/>
<g fill="none" stroke="#606060" stroke-width="0.8"><path transform="translate(183.80,207.15)" d="M1.1,1.3 L2.7,0 L2.7,6.7"/><path transform="translate(189.80,207.15)" d="M0.3,1.6 C0.5,0.6 1.3,0 2.4,0 C3.7,0 4.5,0.8 4.5,1.9 C4.5,3.1 3.5,3.9 0.1,6.7 L4.8,6.7"/></g>
<circle cx="213.7" cy="227.5" r="10" fill="none" stroke="#555" stroke-width="0.85"/>
<g fill="none" stroke="#606060" stroke-width="0.8"><path transform="translate(208.30,224.15)" d="M1.1,1.3 L2.7,0 L2.7,6.7"/><path transform="translate(214.30,224.15)" d="M1.1,1.3 L2.7,0 L2.7,6.7"/></g>
<circle cx="242.4" cy="242.4" r="10" fill="none" stroke="#555" stroke-width="0.85"/>
<g fill="none" stroke="#606060" stroke-width="0.8"><path transform="translate(240.00,239.05)" d="M0.5,5.7 C0.9,6.4 1.6,6.7 2.3,6.7 C3.8,6.7 4.8,5.3 4.8,3.1 C4.8,1.1 3.8,0 2.4,0 C1,0 0,0.9 0,2.2 C0,3.5 1,4.3 2.3,4.3 C3.5,4.3 4.4,3.7 4.8,2.8"/></g>
<circle cx="242.9" cy="298.6" r="10" fill="none" stroke="#555" stroke-width="0.85"/>
<g fill="none" stroke="#606060" stroke-width="0.8"><path transform="translate(237.50,295.25)" d="M0.3,1.6 C0.5,0.6 1.3,0 2.4,0 C3.7,0 4.5,0.8 4.5,1.9 C4.5,3.1 3.5,3.9 0.1,6.7 L4.8,6.7"/><path transform="translate(243.50,295.25)" d="M3.6,6.7 L3.6,0 L0,4.7 L4.8,4.7"/></g>
<circle cx="17.6" cy="372.6" r="10" fill="none" stroke="#555" stroke-width="0.85"/>
<g fill="none" stroke="#606060" stroke-width="0.8"><path transform="translate(12.20,369.25)" d="M0.4,1.0 C0.9,0.3 1.6,0 2.4,0 C3.6,0 4.4,0.7 4.4,1.7 C4.4,2.7 3.6,3.3 2.2,3.3 C3.8,3.3 4.8,4 4.8,5 C4.8,6.1 3.8,6.7 2.4,6.7 C1.3,6.7 0.5,6.3 0,5.6"/><path transform="translate(18.20,369.25)" d="M0.5,5.7 C0.9,6.4 1.6,6.7 2.3,6.7 C3.8,6.7 4.8,5.3 4.8,3.1 C4.8,1.1 3.8,0 2.4,0 C1,0 0,0.9 0,2.2 C0,3.5 1,4.3 2.3,4.3 C3.5,4.3 4.4,3.7 4.8,2.8"/></g>
<circle cx="83.2" cy="391.1" r="10" fill="none" stroke="#555" stroke-width="0.85"/>
<g fill="none" stroke="#606060" stroke-width="0.8"><path transform="translate(77.80,387.75)" d="M1.1,1.3 L2.7,0 L2.7,6.7"/><path transform="translate(83.80,387.75)" d="M0.5,5.7 C0.9,6.4 1.6,6.7 2.3,6.7 C3.8,6.7 4.8,5.3 4.8,3.1 C4.8,1.1 3.8,0 2.4,0 C1,0 0,0.9 0,2.2 C0,3.5 1,4.3 2.3,4.3 C3.5,4.3 4.4,3.7 4.8,2.8"/></g>
<circle cx="133.8" cy="438.2" r="10" fill="none" stroke="#555" stroke-width="0.85"/>
<g fill="none" stroke="#606060" stroke-width="0.8"><path transform="translate(128.40,434.85)" d="M1.1,1.3 L2.7,0 L2.7,6.7"/><path transform="translate(134.40,434.85)" d="M0.5,5.7 C0.9,6.4 1.6,6.7 2.3,6.7 C3.8,6.7 4.8,5.3 4.8,3.1 C4.8,1.1 3.8,0 2.4,0 C1,0 0,0.9 0,2.2 C0,3.5 1,4.3 2.3,4.3 C3.5,4.3 4.4,3.7 4.8,2.8"/></g>
<circle cx="171.8" cy="421.2" r="10" fill="none" stroke="#555" stroke-width="0.85"/>
<g fill="none" stroke="#606060" stroke-width="0.8"><path transform="translate(169.40,417.85)" d="M4.3,1.0 C3.9,0.3 3.2,0 2.5,0 C1,0 0,1.4 0,3.6 C0,5.6 1,6.7 2.4,6.7 C3.8,6.7 4.8,5.8 4.8,4.5 C4.8,3.2 3.8,2.4 2.5,2.4 C1.3,2.4 0.4,3 0,3.9"/></g>
<circle cx="178.3" cy="442" r="10" fill="none" stroke="#555" stroke-width="0.85"/>
<g fill="none" stroke="#606060" stroke-width="0.8"><path transform="translate(172.90,438.65)" d="M0.3,1.6 C0.5,0.6 1.3,0 2.4,0 C3.7,0 4.5,0.8 4.5,1.9 C4.5,3.1 3.5,3.9 0.1,6.7 L4.8,6.7"/><path transform="translate(178.90,438.65)" d="M4.4,0 L0.8,0 L0.4,3.1 C0.9,2.6 1.6,2.4 2.4,2.4 C3.8,2.4 4.8,3.3 4.8,4.5 C4.8,5.8 3.8,6.7 2.3,6.7 C1.3,6.7 0.5,6.3 0,5.6"/></g>
<circle cx="347.1" cy="366.6" r="9.9" fill="none" stroke="#3f8760" stroke-width="0.85"/>
<g fill="none" stroke="#606060" stroke-width="0.8"><path transform="translate(344.70,363.25)" d="M0,0 L4.8,0 C3,1.9 2,4.2 1.6,6.7"/></g>
<circle cx="323" cy="457.5" r="10" fill="none" stroke="#555" stroke-width="0.85"/>
<g fill="none" stroke="#606060" stroke-width="0.8"><path transform="translate(320.60,454.15)" d="M4.4,0 L0.8,0 L0.4,3.1 C0.9,2.6 1.6,2.4 2.4,2.4 C3.8,2.4 4.8,3.3 4.8,4.5 C4.8,5.8 3.8,6.7 2.3,6.7 C1.3,6.7 0.5,6.3 0,5.6"/></g>
<circle cx="273.7" cy="454.5" r="10" fill="none" stroke="#555" stroke-width="0.85"/>
<g fill="none" stroke="#606060" stroke-width="0.8"><path transform="translate(268.30,451.15)" d="M1.1,1.3 L2.7,0 L2.7,6.7"/><path transform="translate(274.30,451.15)" d="M0.5,5.7 C0.9,6.4 1.6,6.7 2.3,6.7 C3.8,6.7 4.8,5.3 4.8,3.1 C4.8,1.1 3.8,0 2.4,0 C1,0 0,0.9 0,2.2 C0,3.5 1,4.3 2.3,4.3 C3.5,4.3 4.4,3.7 4.8,2.8"/></g>
<circle cx="480.7" cy="418.2" r="10" fill="none" stroke="#555" stroke-width="0.85"/>
<g fill="none" stroke="#606060" stroke-width="0.8"><path transform="translate(478.30,414.85)" d="M0.4,1.0 C0.9,0.3 1.6,0 2.4,0 C3.6,0 4.4,0.7 4.4,1.7 C4.4,2.7 3.6,3.3 2.2,3.3 C3.8,3.3 4.8,4 4.8,5 C4.8,6.1 3.8,6.7 2.4,6.7 C1.3,6.7 0.5,6.3 0,5.6"/></g>
<circle cx="437" cy="459.8" r="10" fill="none" stroke="#555" stroke-width="0.85"/>
<g fill="none" stroke="#606060" stroke-width="0.8"><path transform="translate(431.60,456.45)" d="M0.3,1.6 C0.5,0.6 1.3,0 2.4,0 C3.7,0 4.5,0.8 4.5,1.9 C4.5,3.1 3.5,3.9 0.1,6.7 L4.8,6.7"/><path transform="translate(437.60,456.45)" d="M2.4,0 C4,0 4.8,1.5 4.8,3.35 C4.8,5.2 4,6.7 2.4,6.7 C0.8,6.7 0,5.2 0,3.35 C0,1.5 0.8,0 2.4,0 Z"/></g>
<circle cx="749.5" cy="351" r="10" fill="none" stroke="#555" stroke-width="0.85"/>
<g fill="none" stroke="#606060" stroke-width="0.8"><path transform="translate(744.10,347.65)" d="M3.6,6.7 L3.6,0 L0,4.7 L4.8,4.7"/><path transform="translate(750.10,347.65)" d="M2.4,0 C4,0 4.8,1.5 4.8,3.35 C4.8,5.2 4,6.7 2.4,6.7 C0.8,6.7 0,5.2 0,3.35 C0,1.5 0.8,0 2.4,0 Z"/></g>
<circle cx="584" cy="390.8" r="10" fill="none" stroke="#555" stroke-width="0.85"/>
<g fill="none" stroke="#606060" stroke-width="0.8"><path transform="translate(578.60,387.45)" d="M1.1,1.3 L2.7,0 L2.7,6.7"/><path transform="translate(584.60,387.45)" d="M0,0 L4.8,0 C3,1.9 2,4.2 1.6,6.7"/></g>
<circle cx="629.5" cy="388.4" r="10" fill="none" stroke="#555" stroke-width="0.85"/>
<g fill="none" stroke="#606060" stroke-width="0.8"><path transform="translate(624.10,385.05)" d="M3.6,6.7 L3.6,0 L0,4.7 L4.8,4.7"/><path transform="translate(630.10,385.05)" d="M3.6,6.7 L3.6,0 L0,4.7 L4.8,4.7"/></g>
<circle cx="693.9" cy="384.8" r="10" fill="none" stroke="#555" stroke-width="0.85"/>
<g fill="none" stroke="#606060" stroke-width="0.8"><path transform="translate(688.50,381.45)" d="M1.1,1.3 L2.7,0 L2.7,6.7"/><path transform="translate(694.50,381.45)" d="M0,0 L4.8,0 C3,1.9 2,4.2 1.6,6.7"/></g>
<circle cx="673.8" cy="505" r="10" fill="none" stroke="#555" stroke-width="0.85"/>
<g fill="none" stroke="#606060" stroke-width="0.8"><path transform="translate(668.40,501.65)" d="M3.6,6.7 L3.6,0 L0,4.7 L4.8,4.7"/><path transform="translate(674.40,501.65)" d="M0.4,1.0 C0.9,0.3 1.6,0 2.4,0 C3.6,0 4.4,0.7 4.4,1.7 C4.4,2.7 3.6,3.3 2.2,3.3 C3.8,3.3 4.8,4 4.8,5 C4.8,6.1 3.8,6.7 2.4,6.7 C1.3,6.7 0.5,6.3 0,5.6"/></g>
<circle cx="702.2" cy="510.4" r="10" fill="none" stroke="#555" stroke-width="0.85"/>
<g fill="none" stroke="#606060" stroke-width="0.8"><path transform="translate(696.80,507.05)" d="M3.6,6.7 L3.6,0 L0,4.7 L4.8,4.7"/><path transform="translate(702.80,507.05)" d="M0.3,1.6 C0.5,0.6 1.3,0 2.4,0 C3.7,0 4.5,0.8 4.5,1.9 C4.5,3.1 3.5,3.9 0.1,6.7 L4.8,6.7"/></g>
<circle cx="742.6" cy="536.5" r="10" fill="none" stroke="#555" stroke-width="0.85"/>
<g fill="none" stroke="#606060" stroke-width="0.8"><path transform="translate(737.20,533.15)" d="M3.6,6.7 L3.6,0 L0,4.7 L4.8,4.7"/><path transform="translate(743.20,533.15)" d="M1.1,1.3 L2.7,0 L2.7,6.7"/></g>
<circle cx="129.5" cy="473.7" r="10" fill="none" stroke="#555" stroke-width="0.85"/>
<g fill="none" stroke="#606060" stroke-width="0.8"><path transform="translate(124.10,470.35)" d="M0.3,1.6 C0.5,0.6 1.3,0 2.4,0 C3.7,0 4.5,0.8 4.5,1.9 C4.5,3.1 3.5,3.9 0.1,6.7 L4.8,6.7"/><path transform="translate(130.10,470.35)" d="M4.3,1.0 C3.9,0.3 3.2,0 2.5,0 C1,0 0,1.4 0,3.6 C0,5.6 1,6.7 2.4,6.7 C3.8,6.7 4.8,5.8 4.8,4.5 C4.8,3.2 3.8,2.4 2.5,2.4 C1.3,2.4 0.4,3 0,3.9"/></g>
<circle cx="187" cy="473" r="10" fill="none" stroke="#555" stroke-width="0.85"/>
<g fill="none" stroke="#606060" stroke-width="0.8"><path transform="translate(184.60,469.65)" d="M3.6,6.7 L3.6,0 L0,4.7 L4.8,4.7"/></g>
<circle cx="261" cy="489.3" r="10" fill="none" stroke="#555" stroke-width="0.85"/>
<g fill="none" stroke="#606060" stroke-width="0.8"><path transform="translate(255.60,485.95)" d="M0.3,1.6 C0.5,0.6 1.3,0 2.4,0 C3.7,0 4.5,0.8 4.5,1.9 C4.5,3.1 3.5,3.9 0.1,6.7 L4.8,6.7"/><path transform="translate(261.60,485.95)" d="M0,0 L4.8,0 C3,1.9 2,4.2 1.6,6.7"/></g>
<circle cx="294.5" cy="510.7" r="10" fill="none" stroke="#555" stroke-width="0.85"/>
<g fill="none" stroke="#606060" stroke-width="0.8"><path transform="translate(292.10,507.35)" d="M1.1,1.3 L2.7,0 L2.7,6.7"/></g>
<circle cx="335.5" cy="487.5" r="10" fill="none" stroke="#555" stroke-width="0.85"/>
<g fill="none" stroke="#606060" stroke-width="0.8"><path transform="translate(333.10,484.15)" d="M0.3,1.6 C0.5,0.6 1.3,0 2.4,0 C3.7,0 4.5,0.8 4.5,1.9 C4.5,3.1 3.5,3.9 0.1,6.7 L4.8,6.7"/></g>
<circle cx="372.5" cy="474.2" r="10" fill="none" stroke="#555" stroke-width="0.85"/>
<g fill="none" stroke="#606060" stroke-width="0.8"><path transform="translate(364.10,470.85)" d="M1.1,1.3 L2.7,0 L2.7,6.7"/><path transform="translate(370.10,470.85)" d="M2.4,0 C4,0 4.8,1.5 4.8,3.35 C4.8,5.2 4,6.7 2.4,6.7 C0.8,6.7 0,5.2 0,3.35 C0,1.5 0.8,0 2.4,0 Z"/><path transform="translate(376.10,470.85)" d="M1.1,1.3 L2.7,0 L2.7,6.7"/></g>
<circle cx="323.2" cy="591.2" r="10" fill="none" stroke="#555" stroke-width="0.85"/>
<g fill="none" stroke="#606060" stroke-width="0.8"><path transform="translate(320.80,587.85)" d="M3.6,6.7 L3.6,0 L0,4.7 L4.8,4.7"/></g>
<circle cx="458.1" cy="500" r="10" fill="none" stroke="#555" stroke-width="0.85"/>
<g fill="none" stroke="#606060" stroke-width="0.8"><path transform="translate(452.70,496.65)" d="M0.3,1.6 C0.5,0.6 1.3,0 2.4,0 C3.7,0 4.5,0.8 4.5,1.9 C4.5,3.1 3.5,3.9 0.1,6.7 L4.8,6.7"/><path transform="translate(458.70,496.65)" d="M1.1,1.3 L2.7,0 L2.7,6.7"/></g>
<circle cx="485.3" cy="490.6" r="10" fill="none" stroke="#555" stroke-width="0.85"/>
<g fill="none" stroke="#606060" stroke-width="0.8"><path transform="translate(476.90,487.25)" d="M1.1,1.3 L2.7,0 L2.7,6.7"/><path transform="translate(482.90,487.25)" d="M2.4,0 C4,0 4.8,1.5 4.8,3.35 C4.8,5.2 4,6.7 2.4,6.7 C0.8,6.7 0,5.2 0,3.35 C0,1.5 0.8,0 2.4,0 Z"/><path transform="translate(488.90,487.25)" d="M1.1,1.3 L2.7,0 L2.7,6.7"/></g>
<circle cx="507.2" cy="519.7" r="10" fill="none" stroke="#555" stroke-width="0.85"/>
<g fill="none" stroke="#606060" stroke-width="0.8"><path transform="translate(498.80,516.35)" d="M1.1,1.3 L2.7,0 L2.7,6.7"/><path transform="translate(504.80,516.35)" d="M2.4,0 C4,0 4.8,1.5 4.8,3.35 C4.8,5.2 4,6.7 2.4,6.7 C0.8,6.7 0,5.2 0,3.35 C0,1.5 0.8,0 2.4,0 Z"/><path transform="translate(510.80,516.35)" d="M2.4,0 C4,0 4.8,1.5 4.8,3.35 C4.8,5.2 4,6.7 2.4,6.7 C0.8,6.7 0,5.2 0,3.35 C0,1.5 0.8,0 2.4,0 Z"/></g>
<circle cx="526.6" cy="498.7" r="10" fill="none" stroke="#555" stroke-width="0.85"/>
<g fill="none" stroke="#606060" stroke-width="0.8"><path transform="translate(518.20,495.35)" d="M1.1,1.3 L2.7,0 L2.7,6.7"/><path transform="translate(524.20,495.35)" d="M2.4,0 C4,0 4.8,1.5 4.8,3.35 C4.8,5.2 4,6.7 2.4,6.7 C0.8,6.7 0,5.2 0,3.35 C0,1.5 0.8,0 2.4,0 Z"/><path transform="translate(530.20,495.35)" d="M4.3,1.0 C3.9,0.3 3.2,0 2.5,0 C1,0 0,1.4 0,3.6 C0,5.6 1,6.7 2.4,6.7 C3.8,6.7 4.8,5.8 4.8,4.5 C4.8,3.2 3.8,2.4 2.5,2.4 C1.3,2.4 0.4,3 0,3.9"/></g>
<circle cx="551.9" cy="489.4" r="10" fill="none" stroke="#555" stroke-width="0.85"/>
<g fill="none" stroke="#606060" stroke-width="0.8"><path transform="translate(543.50,486.05)" d="M1.1,1.3 L2.7,0 L2.7,6.7"/><path transform="translate(549.50,486.05)" d="M2.4,0 C4,0 4.8,1.5 4.8,3.35 C4.8,5.2 4,6.7 2.4,6.7 C0.8,6.7 0,5.2 0,3.35 C0,1.5 0.8,0 2.4,0 Z"/><path transform="translate(555.50,486.05)" d="M0.4,1.0 C0.9,0.3 1.6,0 2.4,0 C3.6,0 4.4,0.7 4.4,1.7 C4.4,2.7 3.6,3.3 2.2,3.3 C3.8,3.3 4.8,4 4.8,5 C4.8,6.1 3.8,6.7 2.4,6.7 C1.3,6.7 0.5,6.3 0,5.6"/></g>
<circle cx="581" cy="486.3" r="10" fill="none" stroke="#555" stroke-width="0.85"/>
<g fill="none" stroke="#606060" stroke-width="0.8"><path transform="translate(572.60,482.95)" d="M1.1,1.3 L2.7,0 L2.7,6.7"/><path transform="translate(578.60,482.95)" d="M2.4,0 C4,0 4.8,1.5 4.8,3.35 C4.8,5.2 4,6.7 2.4,6.7 C0.8,6.7 0,5.2 0,3.35 C0,1.5 0.8,0 2.4,0 Z"/><path transform="translate(584.60,482.95)" d="M0,0 L4.8,0 C3,1.9 2,4.2 1.6,6.7"/></g>
<circle cx="616.8" cy="503.4" r="10" fill="none" stroke="#555" stroke-width="0.85"/>
<g fill="none" stroke="#606060" stroke-width="0.8"><path transform="translate(608.40,500.05)" d="M1.1,1.3 L2.7,0 L2.7,6.7"/><path transform="translate(614.40,500.05)" d="M2.4,0 C4,0 4.8,1.5 4.8,3.35 C4.8,5.2 4,6.7 2.4,6.7 C0.8,6.7 0,5.2 0,3.35 C0,1.5 0.8,0 2.4,0 Z"/><path transform="translate(620.40,500.05)" d="M4.4,0 L0.8,0 L0.4,3.1 C0.9,2.6 1.6,2.4 2.4,2.4 C3.8,2.4 4.8,3.3 4.8,4.5 C4.8,5.8 3.8,6.7 2.3,6.7 C1.3,6.7 0.5,6.3 0,5.6"/></g>
<circle cx="643.8" cy="520.9" r="10" fill="none" stroke="#555" stroke-width="0.85"/>
<g fill="none" stroke="#606060" stroke-width="0.8"><path transform="translate(635.40,517.55)" d="M1.1,1.3 L2.7,0 L2.7,6.7"/><path transform="translate(641.40,517.55)" d="M2.4,0 C4,0 4.8,1.5 4.8,3.35 C4.8,5.2 4,6.7 2.4,6.7 C0.8,6.7 0,5.2 0,3.35 C0,1.5 0.8,0 2.4,0 Z"/><path transform="translate(647.40,517.55)" d="M3.6,6.7 L3.6,0 L0,4.7 L4.8,4.7"/></g>
<circle cx="610.3" cy="580.7" r="10" fill="none" stroke="#555" stroke-width="0.85"/>
<g fill="none" stroke="#606060" stroke-width="0.8"><path transform="translate(601.90,577.35)" d="M1.1,1.3 L2.7,0 L2.7,6.7"/><path transform="translate(607.90,577.35)" d="M2.4,0 C4,0 4.8,1.5 4.8,3.35 C4.8,5.2 4,6.7 2.4,6.7 C0.8,6.7 0,5.2 0,3.35 C0,1.5 0.8,0 2.4,0 Z"/><path transform="translate(613.90,577.35)" d="M0.3,1.6 C0.5,0.6 1.3,0 2.4,0 C3.7,0 4.5,0.8 4.5,1.9 C4.5,3.1 3.5,3.9 0.1,6.7 L4.8,6.7"/></g>
<circle cx="158.8" cy="583.2" r="10" fill="none" stroke="#555" stroke-width="0.85"/>
<g fill="none" stroke="#606060" stroke-width="0.8"><path transform="translate(156.40,579.85)" d="M3.6,6.7 L3.6,0 L0,4.7 L4.8,4.7"/></g>
</svg>
</body></html>
